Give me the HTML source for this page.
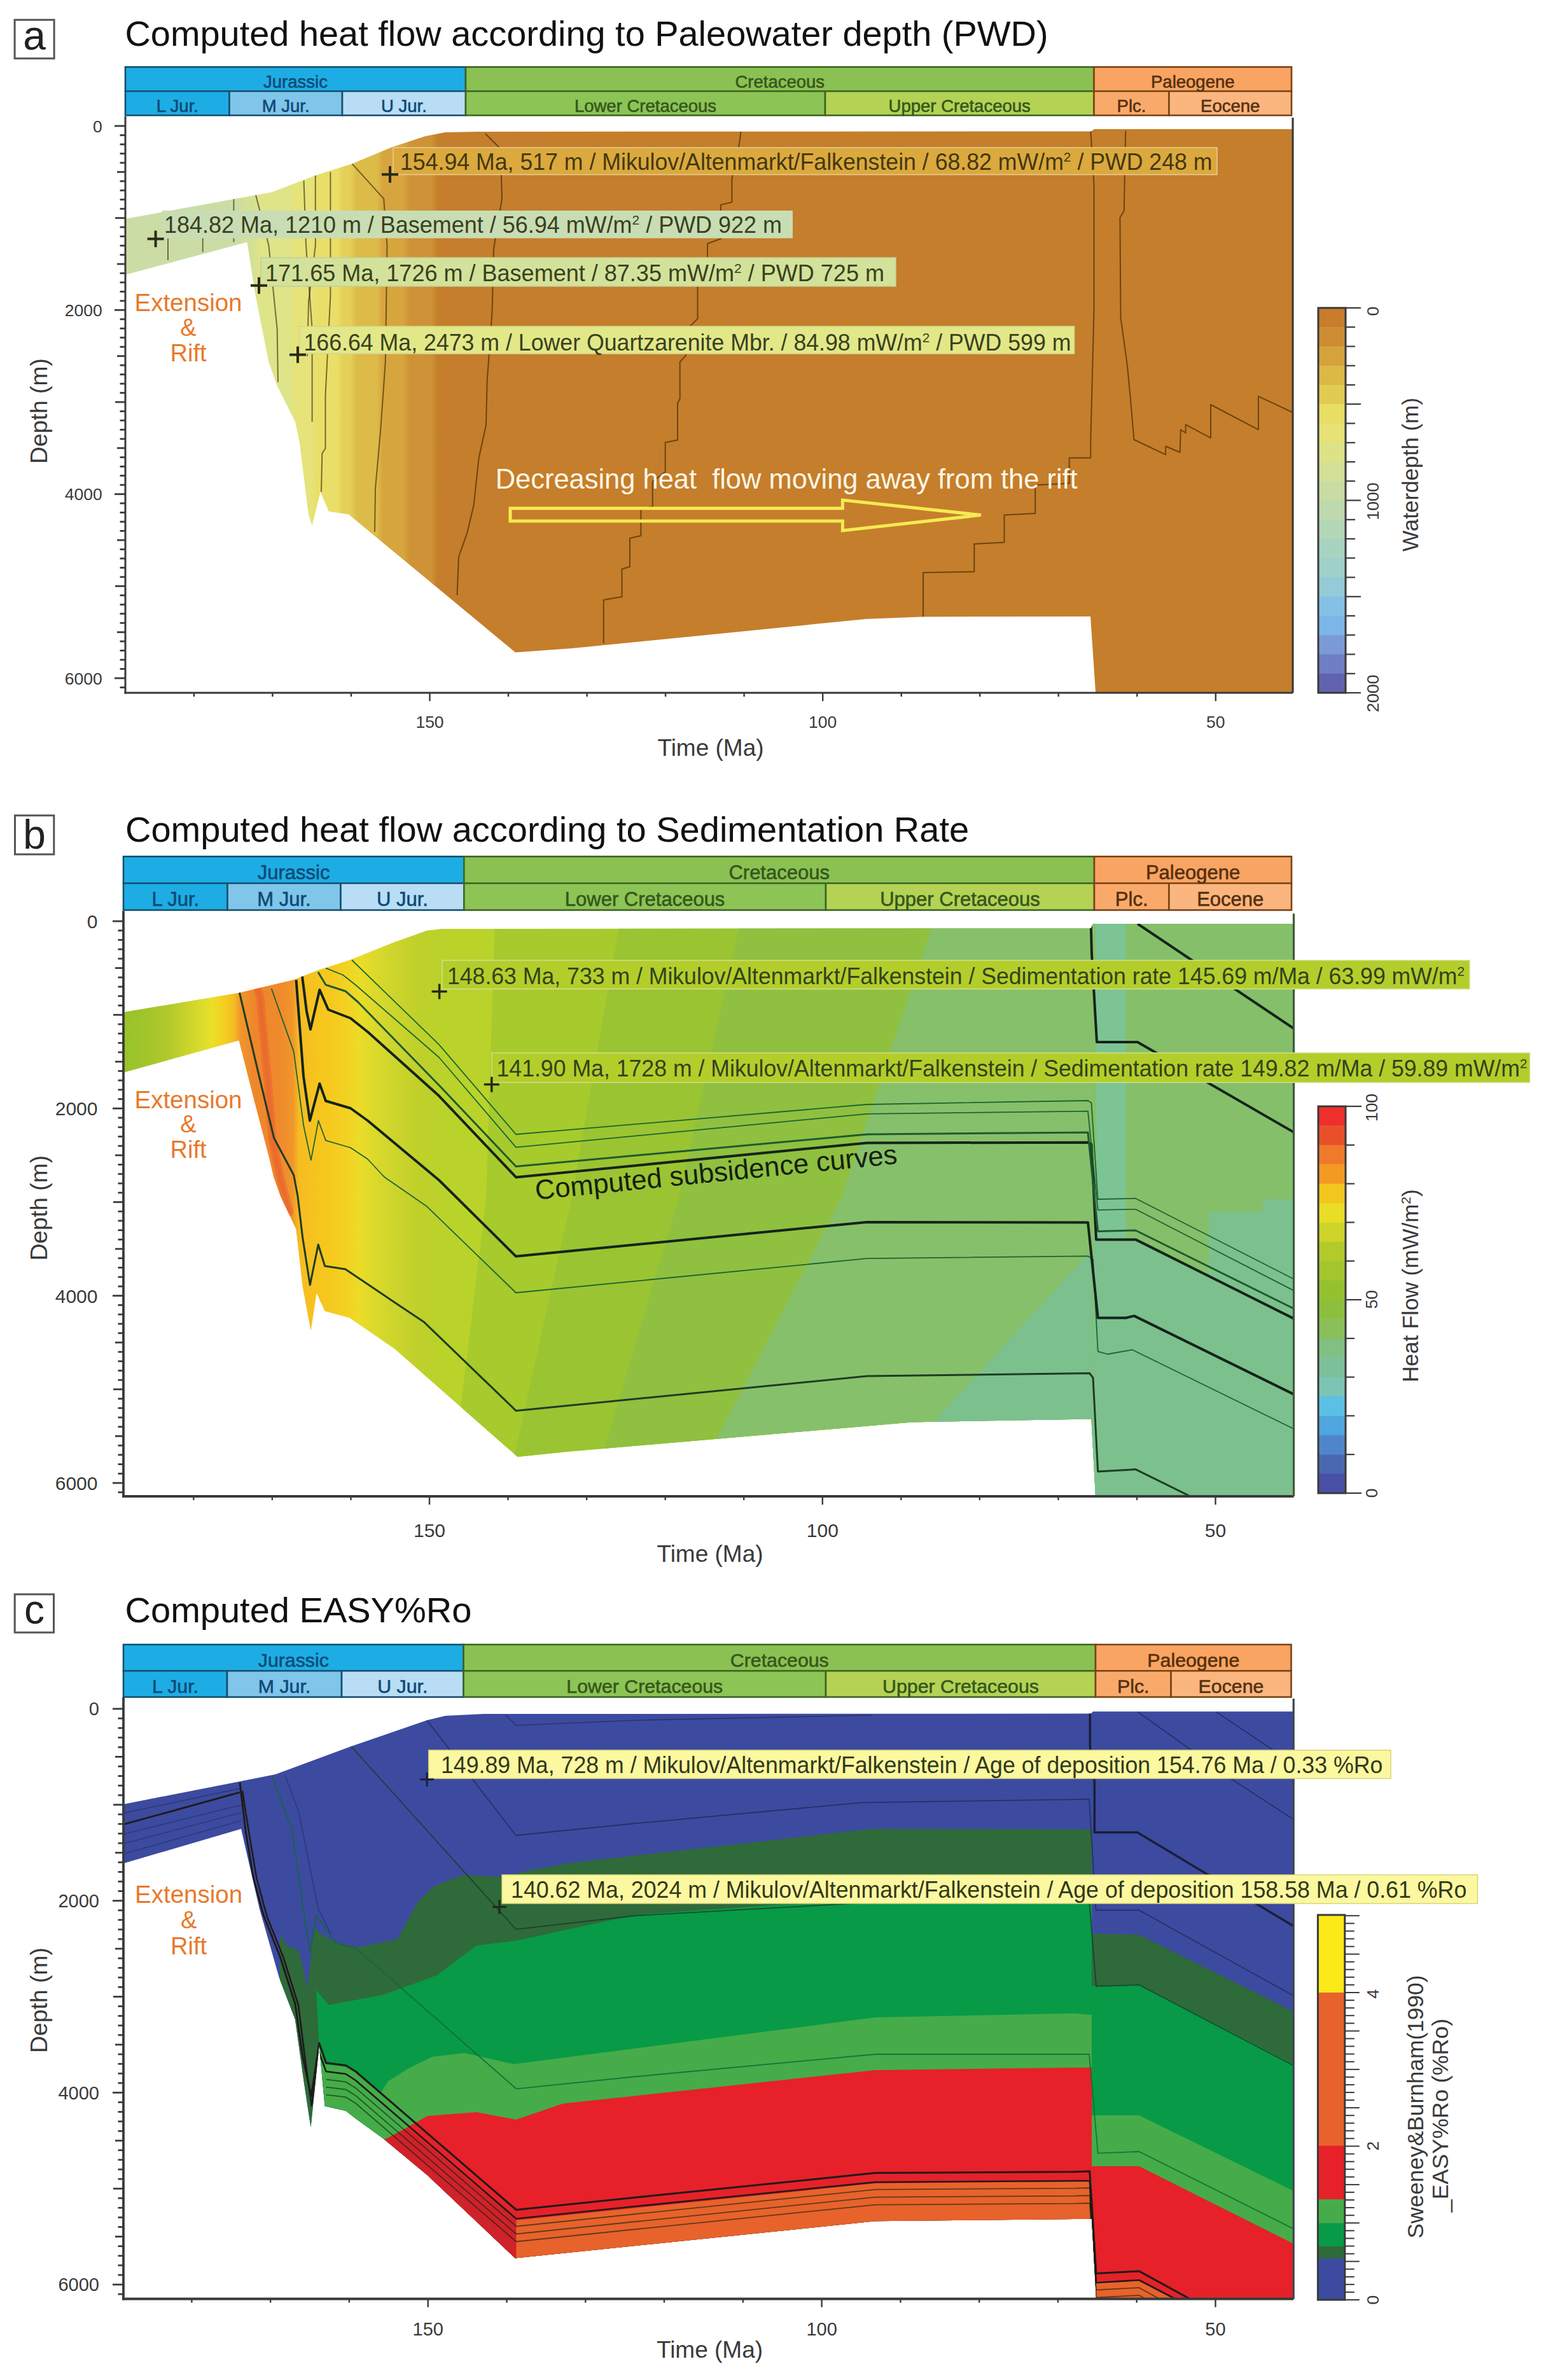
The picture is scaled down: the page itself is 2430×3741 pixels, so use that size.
<!DOCTYPE html>
<html><head><meta charset="utf-8"><title>Computed heat flow</title>
<style>
html,body{margin:0;padding:0;background:#fff;overflow:hidden;width:2430px;height:3741px;}
svg{display:block;}
svg text{font-family:"Liberation Sans",sans-serif;}
</style></head><body>
<svg width="2430" height="3741" viewBox="0 0 2430 3741">
<rect x="0" y="0" width="2430" height="3741" fill="#ffffff"/>
<clipPath id="clipA"><polygon points="197.0,344.0 370.0,312.4 427.7,302.0 495.8,275.7 553.4,257.4 616.3,231.2 668.7,214.0 700.0,208.0 752.5,207.0 1715.0,206.5 1720.0,203.0 2031.0,203.0 2031.0,1088.0 1722.0,1088.0 1714.0,969.0 1450.0,969.4 1361.0,973.0 900.0,1019.0 810.0,1025.4 548.0,808.5 516.8,804.0 503.7,773.0 490.5,826.0 485.0,809.6 470.6,694.0 464.0,663.0 435.5,605.8 422.4,569.0 401.5,464.0 388.4,380.5 197.0,432.0"/></clipPath>
<linearGradient id="gradA" gradientUnits="userSpaceOnUse" x1="190" y1="0" x2="2040" y2="0"><stop offset="0.00000" stop-color="#cbdda5"/><stop offset="0.10000" stop-color="#cbdda5"/><stop offset="0.10541" stop-color="#d3e095"/><stop offset="0.11189" stop-color="#d3e095"/><stop offset="0.11730" stop-color="#dee488"/><stop offset="0.14324" stop-color="#dee488"/><stop offset="0.14865" stop-color="#e6e37a"/><stop offset="0.16162" stop-color="#e6e37a"/><stop offset="0.16703" stop-color="#e9df68"/><stop offset="0.18378" stop-color="#e9df68"/><stop offset="0.18919" stop-color="#e4cf58"/><stop offset="0.19514" stop-color="#e4cf58"/><stop offset="0.20054" stop-color="#ddbb49"/><stop offset="0.21730" stop-color="#ddbb49"/><stop offset="0.22270" stop-color="#d7a53e"/><stop offset="0.24000" stop-color="#d7a53e"/><stop offset="0.24541" stop-color="#cf9236"/><stop offset="0.26378" stop-color="#cf9236"/><stop offset="0.26919" stop-color="#c57e2b"/><stop offset="1.00000" stop-color="#c57e2b"/></linearGradient>
<g clip-path="url(#clipA)">
<rect x="190.0" y="190.0" width="1850.0" height="905.0" fill="url(#gradA)" />
<polyline points="264.0,375.0 264.0,409.0" fill="none" stroke="#2e2000" stroke-width="2" opacity="0.6" stroke-linejoin="round"/>
<polyline points="318.7,367.0 318.7,396.0" fill="none" stroke="#2e2000" stroke-width="2" opacity="0.6" stroke-linejoin="round"/>
<polyline points="367.4,307.0 367.4,380.5" fill="none" stroke="#2e2000" stroke-width="2" opacity="0.6" stroke-linejoin="round"/>
<polyline points="401.5,304.6 422.4,385.8 435.6,516.8 437.0,600.6" fill="none" stroke="#2e2000" stroke-width="2" opacity="0.6" stroke-linejoin="round"/>
<polyline points="477.5,283.6 481.0,385.8 490.6,516.8 490.6,663.0" fill="none" stroke="#2e2000" stroke-width="2" opacity="0.6" stroke-linejoin="round"/>
<polyline points="495.8,275.7 495.8,385.8 485.0,474.8 483.0,560.0" fill="none" stroke="#2e2000" stroke-width="2" opacity="0.6" stroke-linejoin="round"/>
<polyline points="519.4,270.5 519.4,464.4 511.5,621.6 511.5,704.8 506.3,712.6 505.0,773.0" fill="none" stroke="#2e2000" stroke-width="2" opacity="0.6" stroke-linejoin="round"/>
<polyline points="553.4,257.4 603.2,312.4 608.5,385.8 605.8,569.0 598.0,678.6 590.0,767.7 589.0,835.8" fill="none" stroke="#2e2000" stroke-width="2" opacity="0.6" stroke-linejoin="round"/>
<polyline points="763.0,210.3 786.6,233.8 789.0,312.4 776.0,391.0 773.5,490.6 765.6,600.0 764.0,668.0 752.5,720.5 744.7,793.9 734.0,838.4 721.0,875.0 718.5,935.3" fill="none" stroke="#2e2000" stroke-width="2" opacity="0.6" stroke-linejoin="round"/>
<polyline points="1164.6,206.6 1162.0,226.0 1150.4,281.0 1150.4,317.7 1133.0,321.9 1133.0,375.3 1112.0,383.0 1112.0,406.7 1096.5,451.3 1096.5,501.0 1086.0,511.5 1078.0,558.7 1068.7,569.0 1068.7,626.8 1065.0,634.0 1065.0,691.7 1045.7,695.4 1045.7,741.5 1025.7,757.0 1025.7,796.5 1007.4,800.0 1007.4,842.0 990.0,846.0 990.0,890.8 977.5,894.5 977.5,938.0 948.7,943.0 948.7,1011.0" fill="none" stroke="#2e2000" stroke-width="2" opacity="0.6" stroke-linejoin="round"/>
<polyline points="1714.3,205.7 1719.5,289.6 1719.5,489.0 1714.3,691.0 1714.3,719.8 1680.7,719.8 1680.7,759.8 1627.2,762.4 1627.2,807.0 1578.5,809.6 1578.5,852.5 1531.3,855.0 1531.3,898.6 1451.0,900.0 1451.0,969.4" fill="none" stroke="#2e2000" stroke-width="2" opacity="0.6" stroke-linejoin="round"/>
<polyline points="1769.3,205.7 1766.7,331.5 1760.4,342.0 1761.5,499.0 1772.0,575.7 1777.0,628.0 1782.4,691.0 1832.2,714.6 1832.2,701.5 1854.7,711.0 1855.8,675.3 1863.6,680.5 1863.6,667.4 1903.0,688.4 1903.0,636.0 1977.9,675.3 1977.9,622.9 2031.3,648.0" fill="none" stroke="#2e2000" stroke-width="2" opacity="0.6" stroke-linejoin="round"/>
</g>
<rect x="23.1" y="31.2" width="62.0" height="60.7" fill="#fff" stroke="#555" stroke-width="3"/>
<text x="54.1" y="78.2" font-size="64" fill="#222" text-anchor="middle" >a</text>
<text x="196.5" y="71.5" font-size="56" fill="#111" text-anchor="start" textLength="1451" lengthAdjust="spacingAndGlyphs">Computed heat flow according to Paleowater depth (PWD)</text>
<rect x="197.0" y="105.3" width="535.0" height="38.0" fill="#1dade4" stroke="#14506f" stroke-width="2.6"/>
<rect x="732.0" y="105.3" width="987.5" height="38.0" fill="#8bc152" stroke="#3d6423" stroke-width="2.6"/>
<rect x="1719.5" y="105.3" width="310.5" height="38.0" fill="#f9a462" stroke="#7a4315" stroke-width="2.6"/>
<rect x="197.0" y="143.3" width="163.5" height="38.0" fill="#1dade4" stroke="#14506f" stroke-width="2.6"/>
<rect x="360.5" y="143.3" width="177.5" height="38.0" fill="#80c5ea" stroke="#14506f" stroke-width="2.6"/>
<rect x="538.0" y="143.3" width="194.0" height="38.0" fill="#b8ddf5" stroke="#14506f" stroke-width="2.6"/>
<rect x="732.0" y="143.3" width="565.0" height="38.0" fill="#8cc455" stroke="#3d6423" stroke-width="2.6"/>
<rect x="1297.0" y="143.3" width="422.5" height="38.0" fill="#b4d254" stroke="#3d6423" stroke-width="2.6"/>
<rect x="1719.5" y="143.3" width="117.9" height="38.0" fill="#f9aa6b" stroke="#7a4315" stroke-width="2.6"/>
<rect x="1837.4" y="143.3" width="192.6" height="38.0" fill="#fbb57e" stroke="#7a4315" stroke-width="2.6"/>
<text x="464.5" y="137.7" font-size="27.5" fill="#0e4a75" text-anchor="middle" stroke="#0e4a75" stroke-width="0.6">Jurassic</text>
<text x="1225.8" y="137.7" font-size="27.5" fill="#35571c" text-anchor="middle" stroke="#35571c" stroke-width="0.6">Cretaceous</text>
<text x="1874.8" y="137.7" font-size="27.5" fill="#55300f" text-anchor="middle" stroke="#55300f" stroke-width="0.6">Paleogene</text>
<text x="278.8" y="175.7" font-size="27.5" fill="#0e4a75" text-anchor="middle" stroke="#0e4a75" stroke-width="0.6">L Jur.</text>
<text x="449.2" y="175.7" font-size="27.5" fill="#0e4a75" text-anchor="middle" stroke="#0e4a75" stroke-width="0.6">M Jur.</text>
<text x="635.0" y="175.7" font-size="27.5" fill="#0e4a75" text-anchor="middle" stroke="#0e4a75" stroke-width="0.6">U Jur.</text>
<text x="1014.5" y="175.7" font-size="27.5" fill="#35571c" text-anchor="middle" stroke="#35571c" stroke-width="0.6">Lower Cretaceous</text>
<text x="1508.2" y="175.7" font-size="27.5" fill="#35571c" text-anchor="middle" stroke="#35571c" stroke-width="0.6">Upper Cretaceous</text>
<text x="1778.5" y="175.7" font-size="27.5" fill="#55300f" text-anchor="middle" stroke="#55300f" stroke-width="0.6">Plc.</text>
<text x="1933.7" y="175.7" font-size="27.5" fill="#55300f" text-anchor="middle" stroke="#55300f" stroke-width="0.6">Eocene</text>
<line x1="197.0" y1="183.0" x2="197.0" y2="1090.5" stroke="#3a3a3a" stroke-width="3" />
<line x1="195.5" y1="1089.0" x2="2032.0" y2="1089.0" stroke="#3a3a3a" stroke-width="3" />
<line x1="2032.0" y1="185.0" x2="2032.0" y2="1089.0" stroke="#3f3d38" stroke-width="3.2" />
<line x1="180.0" y1="198.0" x2="197.0" y2="198.0" stroke="#3a3a3a" stroke-width="2.8" />
<text x="160.8" y="207.5" font-size="26.5" fill="#3a3a3a" text-anchor="end" >0</text>
<line x1="188.5" y1="212.5" x2="197.0" y2="212.5" stroke="#3a3a3a" stroke-width="2.8" />
<line x1="188.5" y1="226.9" x2="197.0" y2="226.9" stroke="#3a3a3a" stroke-width="2.8" />
<line x1="188.5" y1="241.4" x2="197.0" y2="241.4" stroke="#3a3a3a" stroke-width="2.8" />
<line x1="188.5" y1="255.9" x2="197.0" y2="255.9" stroke="#3a3a3a" stroke-width="2.8" />
<line x1="184.0" y1="270.3" x2="197.0" y2="270.3" stroke="#3a3a3a" stroke-width="2.8" />
<line x1="188.5" y1="284.8" x2="197.0" y2="284.8" stroke="#3a3a3a" stroke-width="2.8" />
<line x1="188.5" y1="299.3" x2="197.0" y2="299.3" stroke="#3a3a3a" stroke-width="2.8" />
<line x1="188.5" y1="313.7" x2="197.0" y2="313.7" stroke="#3a3a3a" stroke-width="2.8" />
<line x1="188.5" y1="328.2" x2="197.0" y2="328.2" stroke="#3a3a3a" stroke-width="2.8" />
<line x1="181.0" y1="342.7" x2="197.0" y2="342.7" stroke="#3a3a3a" stroke-width="2.8" />
<line x1="188.5" y1="357.1" x2="197.0" y2="357.1" stroke="#3a3a3a" stroke-width="2.8" />
<line x1="188.5" y1="371.6" x2="197.0" y2="371.6" stroke="#3a3a3a" stroke-width="2.8" />
<line x1="188.5" y1="386.1" x2="197.0" y2="386.1" stroke="#3a3a3a" stroke-width="2.8" />
<line x1="188.5" y1="400.5" x2="197.0" y2="400.5" stroke="#3a3a3a" stroke-width="2.8" />
<line x1="184.0" y1="415.0" x2="197.0" y2="415.0" stroke="#3a3a3a" stroke-width="2.8" />
<line x1="188.5" y1="429.5" x2="197.0" y2="429.5" stroke="#3a3a3a" stroke-width="2.8" />
<line x1="188.5" y1="443.9" x2="197.0" y2="443.9" stroke="#3a3a3a" stroke-width="2.8" />
<line x1="188.5" y1="458.4" x2="197.0" y2="458.4" stroke="#3a3a3a" stroke-width="2.8" />
<line x1="188.5" y1="472.9" x2="197.0" y2="472.9" stroke="#3a3a3a" stroke-width="2.8" />
<line x1="180.0" y1="487.3" x2="197.0" y2="487.3" stroke="#3a3a3a" stroke-width="2.8" />
<text x="160.8" y="496.9" font-size="26.5" fill="#3a3a3a" text-anchor="end" >2000</text>
<line x1="188.5" y1="501.8" x2="197.0" y2="501.8" stroke="#3a3a3a" stroke-width="2.8" />
<line x1="188.5" y1="516.3" x2="197.0" y2="516.3" stroke="#3a3a3a" stroke-width="2.8" />
<line x1="188.5" y1="530.7" x2="197.0" y2="530.7" stroke="#3a3a3a" stroke-width="2.8" />
<line x1="188.5" y1="545.2" x2="197.0" y2="545.2" stroke="#3a3a3a" stroke-width="2.8" />
<line x1="184.0" y1="559.7" x2="197.0" y2="559.7" stroke="#3a3a3a" stroke-width="2.8" />
<line x1="188.5" y1="574.1" x2="197.0" y2="574.1" stroke="#3a3a3a" stroke-width="2.8" />
<line x1="188.5" y1="588.6" x2="197.0" y2="588.6" stroke="#3a3a3a" stroke-width="2.8" />
<line x1="188.5" y1="603.1" x2="197.0" y2="603.1" stroke="#3a3a3a" stroke-width="2.8" />
<line x1="188.5" y1="617.5" x2="197.0" y2="617.5" stroke="#3a3a3a" stroke-width="2.8" />
<line x1="181.0" y1="632.0" x2="197.0" y2="632.0" stroke="#3a3a3a" stroke-width="2.8" />
<line x1="188.5" y1="646.5" x2="197.0" y2="646.5" stroke="#3a3a3a" stroke-width="2.8" />
<line x1="188.5" y1="660.9" x2="197.0" y2="660.9" stroke="#3a3a3a" stroke-width="2.8" />
<line x1="188.5" y1="675.4" x2="197.0" y2="675.4" stroke="#3a3a3a" stroke-width="2.8" />
<line x1="188.5" y1="689.9" x2="197.0" y2="689.9" stroke="#3a3a3a" stroke-width="2.8" />
<line x1="184.0" y1="704.3" x2="197.0" y2="704.3" stroke="#3a3a3a" stroke-width="2.8" />
<line x1="188.5" y1="718.8" x2="197.0" y2="718.8" stroke="#3a3a3a" stroke-width="2.8" />
<line x1="188.5" y1="733.3" x2="197.0" y2="733.3" stroke="#3a3a3a" stroke-width="2.8" />
<line x1="188.5" y1="747.7" x2="197.0" y2="747.7" stroke="#3a3a3a" stroke-width="2.8" />
<line x1="188.5" y1="762.2" x2="197.0" y2="762.2" stroke="#3a3a3a" stroke-width="2.8" />
<line x1="180.0" y1="776.7" x2="197.0" y2="776.7" stroke="#3a3a3a" stroke-width="2.8" />
<text x="160.8" y="786.2" font-size="26.5" fill="#3a3a3a" text-anchor="end" >4000</text>
<line x1="188.5" y1="791.1" x2="197.0" y2="791.1" stroke="#3a3a3a" stroke-width="2.8" />
<line x1="188.5" y1="805.6" x2="197.0" y2="805.6" stroke="#3a3a3a" stroke-width="2.8" />
<line x1="188.5" y1="820.1" x2="197.0" y2="820.1" stroke="#3a3a3a" stroke-width="2.8" />
<line x1="188.5" y1="834.5" x2="197.0" y2="834.5" stroke="#3a3a3a" stroke-width="2.8" />
<line x1="184.0" y1="849.0" x2="197.0" y2="849.0" stroke="#3a3a3a" stroke-width="2.8" />
<line x1="188.5" y1="863.5" x2="197.0" y2="863.5" stroke="#3a3a3a" stroke-width="2.8" />
<line x1="188.5" y1="877.9" x2="197.0" y2="877.9" stroke="#3a3a3a" stroke-width="2.8" />
<line x1="188.5" y1="892.4" x2="197.0" y2="892.4" stroke="#3a3a3a" stroke-width="2.8" />
<line x1="188.5" y1="906.9" x2="197.0" y2="906.9" stroke="#3a3a3a" stroke-width="2.8" />
<line x1="181.0" y1="921.3" x2="197.0" y2="921.3" stroke="#3a3a3a" stroke-width="2.8" />
<line x1="188.5" y1="935.8" x2="197.0" y2="935.8" stroke="#3a3a3a" stroke-width="2.8" />
<line x1="188.5" y1="950.3" x2="197.0" y2="950.3" stroke="#3a3a3a" stroke-width="2.8" />
<line x1="188.5" y1="964.7" x2="197.0" y2="964.7" stroke="#3a3a3a" stroke-width="2.8" />
<line x1="188.5" y1="979.2" x2="197.0" y2="979.2" stroke="#3a3a3a" stroke-width="2.8" />
<line x1="184.0" y1="993.7" x2="197.0" y2="993.7" stroke="#3a3a3a" stroke-width="2.8" />
<line x1="188.5" y1="1008.1" x2="197.0" y2="1008.1" stroke="#3a3a3a" stroke-width="2.8" />
<line x1="188.5" y1="1022.6" x2="197.0" y2="1022.6" stroke="#3a3a3a" stroke-width="2.8" />
<line x1="188.5" y1="1037.1" x2="197.0" y2="1037.1" stroke="#3a3a3a" stroke-width="2.8" />
<line x1="188.5" y1="1051.5" x2="197.0" y2="1051.5" stroke="#3a3a3a" stroke-width="2.8" />
<line x1="180.0" y1="1066.0" x2="197.0" y2="1066.0" stroke="#3a3a3a" stroke-width="2.8" />
<text x="160.8" y="1075.5" font-size="26.5" fill="#3a3a3a" text-anchor="end" >6000</text>
<line x1="188.5" y1="1080.5" x2="197.0" y2="1080.5" stroke="#3a3a3a" stroke-width="2.8" />
<line x1="304.9" y1="1089.0" x2="304.9" y2="1095.0" stroke="#3a3a3a" stroke-width="2.4" />
<line x1="428.4" y1="1089.0" x2="428.4" y2="1095.0" stroke="#3a3a3a" stroke-width="2.4" />
<line x1="552.0" y1="1089.0" x2="552.0" y2="1095.0" stroke="#3a3a3a" stroke-width="2.4" />
<line x1="675.5" y1="1089.0" x2="675.5" y2="1102.0" stroke="#3a3a3a" stroke-width="2.4" />
<text x="675.5" y="1144.0" font-size="26.5" fill="#3a3a3a" text-anchor="middle" >150</text>
<line x1="799.0" y1="1089.0" x2="799.0" y2="1095.0" stroke="#3a3a3a" stroke-width="2.4" />
<line x1="922.6" y1="1089.0" x2="922.6" y2="1095.0" stroke="#3a3a3a" stroke-width="2.4" />
<line x1="1046.1" y1="1089.0" x2="1046.1" y2="1095.0" stroke="#3a3a3a" stroke-width="2.4" />
<line x1="1169.6" y1="1089.0" x2="1169.6" y2="1095.0" stroke="#3a3a3a" stroke-width="2.4" />
<line x1="1293.2" y1="1089.0" x2="1293.2" y2="1102.0" stroke="#3a3a3a" stroke-width="2.4" />
<text x="1293.2" y="1144.0" font-size="26.5" fill="#3a3a3a" text-anchor="middle" >100</text>
<line x1="1416.7" y1="1089.0" x2="1416.7" y2="1095.0" stroke="#3a3a3a" stroke-width="2.4" />
<line x1="1540.2" y1="1089.0" x2="1540.2" y2="1095.0" stroke="#3a3a3a" stroke-width="2.4" />
<line x1="1663.7" y1="1089.0" x2="1663.7" y2="1095.0" stroke="#3a3a3a" stroke-width="2.4" />
<line x1="1787.3" y1="1089.0" x2="1787.3" y2="1095.0" stroke="#3a3a3a" stroke-width="2.4" />
<line x1="1910.8" y1="1089.0" x2="1910.8" y2="1102.0" stroke="#3a3a3a" stroke-width="2.4" />
<text x="1910.8" y="1144.0" font-size="26.5" fill="#3a3a3a" text-anchor="middle" >50</text>
<text x="1117.0" y="1187.5" font-size="37" fill="#3a3a3a" text-anchor="middle" >Time (Ma)</text>
<text transform="translate(74.0,646.0) rotate(-90)" font-size="37.3" fill="#3a3a3a" text-anchor="middle" >Depth (m)</text>
<text x="296.0" y="489.0" font-size="39" fill="#e8792b" text-anchor="middle" textLength="169" lengthAdjust="spacingAndGlyphs">Extension</text>
<text x="296.0" y="528.0" font-size="38" fill="#e8792b" text-anchor="middle" >&amp;</text>
<text x="296.0" y="568.0" font-size="38" fill="#e8792b" text-anchor="middle" >Rift</text>
<rect x="618.0" y="232.0" width="1295.0" height="42.5" fill="#dba93e"  stroke="#e6cf95" stroke-width="1.5"/>
<text x="629.0" y="266.5" font-size="36" fill="#44380f" text-anchor="start" textLength="1276.5" lengthAdjust="spacingAndGlyphs">154.94 Ma, 517 m / Mikulov/Altenmarkt/Falkenstein / 68.82 mW/m<tspan font-size="21" dy="-13">2</tspan><tspan dy="13"> </tspan>/ PWD 248 m</text>
<rect x="255.0" y="331.0" width="991.0" height="43.5" fill="#c8ddb4" />
<text x="258.0" y="366.3" font-size="36" fill="#3a4020" text-anchor="start" textLength="971.0" lengthAdjust="spacingAndGlyphs">184.82 Ma, 1210 m / Basement / 56.94 mW/m<tspan font-size="21" dy="-13">2</tspan><tspan dy="13"> </tspan>/ PWD 922 m</text>
<rect x="410.0" y="405.0" width="998.0" height="45.0" fill="#d3e29a"  stroke="#c2cf9a" stroke-width="1.5"/>
<text x="417.0" y="442.3" font-size="36" fill="#3a4020" text-anchor="start" textLength="973.0" lengthAdjust="spacingAndGlyphs">171.65 Ma, 1726 m / Basement / 87.35 mW/m<tspan font-size="21" dy="-13">2</tspan><tspan dy="13"> </tspan>/ PWD 725 m</text>
<rect x="470.6" y="513.0" width="1217.9" height="43.0" fill="#e2e888"  stroke="#d5d590" stroke-width="1.5"/>
<text x="477.5" y="550.8" font-size="36" fill="#3a4020" text-anchor="start" textLength="1206.0" lengthAdjust="spacingAndGlyphs">166.64 Ma, 2473 m / Lower Quartzarenite Mbr. / 84.98 mW/m<tspan font-size="21" dy="-13">2</tspan><tspan dy="13"> </tspan>/ PWD 599 m</text>
<line x1="600.0" y1="274.2" x2="626.0" y2="274.2" stroke="#2a2a14" stroke-width="4" /><line x1="613.0" y1="261.2" x2="613.0" y2="287.2" stroke="#2a2a14" stroke-width="4" />
<line x1="231.6" y1="375.5" x2="257.6" y2="375.5" stroke="#2a2a14" stroke-width="4" /><line x1="244.6" y1="362.5" x2="244.6" y2="388.5" stroke="#2a2a14" stroke-width="4" />
<line x1="394.0" y1="448.8" x2="420.0" y2="448.8" stroke="#2a2a14" stroke-width="4" /><line x1="407.0" y1="435.8" x2="407.0" y2="461.8" stroke="#2a2a14" stroke-width="4" />
<line x1="455.0" y1="557.6" x2="481.0" y2="557.6" stroke="#2a2a14" stroke-width="4" /><line x1="468.0" y1="544.6" x2="468.0" y2="570.6" stroke="#2a2a14" stroke-width="4" />
<text x="778.7" y="767.7" font-size="43.5" fill="#fdf6e6" text-anchor="start" style="white-space:pre" textLength="915" lengthAdjust="spacingAndGlyphs">Decreasing heat  flow moving away from the rift</text>
<polygon points="802.0,799.0 1324.4,799.0 1324.4,786.0 1541.8,809.6 1324.4,834.0 1324.4,819.0 802.0,819.0" fill="none" stroke="#f4ea52" stroke-width="5" stroke-linejoin="miter"/>
<rect x="2072.0" y="484.0" width="43.0" height="30.8" fill="#c97c2c" />
<rect x="2072.0" y="514.2" width="43.0" height="30.8" fill="#cf8d33" />
<rect x="2072.0" y="544.5" width="43.0" height="30.8" fill="#d6a23c" />
<rect x="2072.0" y="574.8" width="43.0" height="30.8" fill="#dcb845" />
<rect x="2072.0" y="605.0" width="43.0" height="30.8" fill="#e2cb52" />
<rect x="2072.0" y="635.2" width="43.0" height="30.8" fill="#e8de64" />
<rect x="2072.0" y="665.5" width="43.0" height="30.8" fill="#e6e276" />
<rect x="2072.0" y="695.8" width="43.0" height="30.8" fill="#dde286" />
<rect x="2072.0" y="726.0" width="43.0" height="30.8" fill="#d3e095" />
<rect x="2072.0" y="756.2" width="43.0" height="30.8" fill="#c9dca3" />
<rect x="2072.0" y="786.5" width="43.0" height="30.8" fill="#bfd9ae" />
<rect x="2072.0" y="816.8" width="43.0" height="30.8" fill="#b4d6b8" />
<rect x="2072.0" y="847.0" width="43.0" height="30.8" fill="#a9d3c1" />
<rect x="2072.0" y="877.2" width="43.0" height="30.8" fill="#9fd0ca" />
<rect x="2072.0" y="907.5" width="43.0" height="30.8" fill="#93cbd6" />
<rect x="2072.0" y="937.8" width="43.0" height="30.8" fill="#85c1e6" />
<rect x="2072.0" y="968.0" width="43.0" height="30.8" fill="#7cb5e8" />
<rect x="2072.0" y="998.2" width="43.0" height="30.8" fill="#7b9bd6" />
<rect x="2072.0" y="1028.5" width="43.0" height="30.8" fill="#6f7fc4" />
<rect x="2072.0" y="1058.8" width="43.0" height="30.8" fill="#6163b0" />
<rect x="2072.0" y="484.0" width="43.0" height="605.0" fill="none" stroke="#3a3a3a" stroke-width="3"/>
<line x1="2115.0" y1="484.0" x2="2139.0" y2="484.0" stroke="#3a3a3a" stroke-width="2.2" />
<line x1="2115.0" y1="514.2" x2="2130.0" y2="514.2" stroke="#3a3a3a" stroke-width="2.2" />
<line x1="2115.0" y1="544.5" x2="2130.0" y2="544.5" stroke="#3a3a3a" stroke-width="2.2" />
<line x1="2115.0" y1="574.8" x2="2130.0" y2="574.8" stroke="#3a3a3a" stroke-width="2.2" />
<line x1="2115.0" y1="605.0" x2="2130.0" y2="605.0" stroke="#3a3a3a" stroke-width="2.2" />
<line x1="2115.0" y1="635.2" x2="2139.0" y2="635.2" stroke="#3a3a3a" stroke-width="2.2" />
<line x1="2115.0" y1="665.5" x2="2130.0" y2="665.5" stroke="#3a3a3a" stroke-width="2.2" />
<line x1="2115.0" y1="695.8" x2="2130.0" y2="695.8" stroke="#3a3a3a" stroke-width="2.2" />
<line x1="2115.0" y1="726.0" x2="2130.0" y2="726.0" stroke="#3a3a3a" stroke-width="2.2" />
<line x1="2115.0" y1="756.2" x2="2130.0" y2="756.2" stroke="#3a3a3a" stroke-width="2.2" />
<line x1="2115.0" y1="786.5" x2="2139.0" y2="786.5" stroke="#3a3a3a" stroke-width="2.2" />
<line x1="2115.0" y1="816.8" x2="2130.0" y2="816.8" stroke="#3a3a3a" stroke-width="2.2" />
<line x1="2115.0" y1="847.0" x2="2130.0" y2="847.0" stroke="#3a3a3a" stroke-width="2.2" />
<line x1="2115.0" y1="877.2" x2="2130.0" y2="877.2" stroke="#3a3a3a" stroke-width="2.2" />
<line x1="2115.0" y1="907.5" x2="2130.0" y2="907.5" stroke="#3a3a3a" stroke-width="2.2" />
<line x1="2115.0" y1="937.8" x2="2139.0" y2="937.8" stroke="#3a3a3a" stroke-width="2.2" />
<line x1="2115.0" y1="968.0" x2="2130.0" y2="968.0" stroke="#3a3a3a" stroke-width="2.2" />
<line x1="2115.0" y1="998.2" x2="2130.0" y2="998.2" stroke="#3a3a3a" stroke-width="2.2" />
<line x1="2115.0" y1="1028.5" x2="2130.0" y2="1028.5" stroke="#3a3a3a" stroke-width="2.2" />
<line x1="2115.0" y1="1058.8" x2="2130.0" y2="1058.8" stroke="#3a3a3a" stroke-width="2.2" />
<line x1="2115.0" y1="1089.0" x2="2139.0" y2="1089.0" stroke="#3a3a3a" stroke-width="2.2" />
<text transform="translate(2167.0,489.0) rotate(-90)" font-size="26.5" fill="#3a3a3a" text-anchor="middle" >0</text>
<text transform="translate(2167.0,788.0) rotate(-90)" font-size="26.5" fill="#3a3a3a" text-anchor="middle" >1000</text>
<text transform="translate(2167.0,1090.0) rotate(-90)" font-size="26.5" fill="#3a3a3a" text-anchor="middle" >2000</text>
<text transform="translate(2229.0,746.0) rotate(-90)" font-size="35" fill="#3a3a3a" text-anchor="middle" >Waterdepth (m)</text>
<clipPath id="clipB"><polygon points="194.0,1591.0 376.0,1560.5 461.7,1540.0 500.5,1524.8 551.0,1508.5 617.0,1482.0 671.0,1462.7 694.5,1460.0 1715.0,1459.0 1718.0,1452.0 2034.0,1452.0 2034.0,2352.0 1722.0,2352.0 1715.4,2230.4 1433.0,2235.5 890.0,2282.0 813.5,2290.0 620.0,2120.0 549.4,2071.5 510.6,2061.0 497.6,2032.6 488.6,2092.0 475.6,2022.3 465.3,1931.7 440.7,1880.0 430.0,1850.0 423.0,1819.7 395.7,1715.0 375.5,1635.4 194.0,1686.0"/></clipPath>
<linearGradient id="gradB" gradientUnits="userSpaceOnUse" x1="194" y1="0" x2="800" y2="0"><stop offset="0.0000" stop-color="#98c22a"/><stop offset="0.0611" stop-color="#a2c52b"/><stop offset="0.1188" stop-color="#b2ca2b"/><stop offset="0.1535" stop-color="#c4d12c"/><stop offset="0.2046" stop-color="#dcdc2c"/><stop offset="0.2277" stop-color="#e8e02a"/><stop offset="0.2574" stop-color="#f4d022"/><stop offset="0.2871" stop-color="#f4bc24"/><stop offset="0.3036" stop-color="#f0962a"/><stop offset="0.3399" stop-color="#ee862c"/><stop offset="0.4059" stop-color="#ef8a2c"/><stop offset="0.4389" stop-color="#f0962a"/><stop offset="0.4554" stop-color="#f6bc22"/><stop offset="0.5000" stop-color="#f6c41e"/><stop offset="0.5314" stop-color="#f6c81e"/><stop offset="0.5792" stop-color="#f2d222"/><stop offset="0.6122" stop-color="#ecdc28"/><stop offset="0.6535" stop-color="#dcd92b"/><stop offset="0.6898" stop-color="#d0d62c"/><stop offset="0.7690" stop-color="#bfd02a"/><stop offset="0.8350" stop-color="#b9d32b"/><stop offset="1.0000" stop-color="#b9d32b"/></linearGradient>
<g clip-path="url(#clipB)">
<rect x="190.0" y="1440.0" width="610.0" height="920.0" fill="url(#gradB)" />
<polyline points="404.0,1552.0 409.0,1568.0 421.0,1700.0 428.0,1791.0 440.0,1850.0 455.0,1905.0" fill="none" stroke="#e95e2e" stroke-width="13" opacity="0.5" stroke-linecap="round" stroke-linejoin="round"/>
<polyline points="404.0,1552.0 409.0,1568.0 421.0,1700.0 428.0,1791.0 440.0,1850.0 455.0,1905.0" fill="none" stroke="#e95e2e" stroke-width="6" opacity="0.4" stroke-linecap="round" stroke-linejoin="round"/>
<polygon points="778.1,1440.0 776.2,1500.0 773.0,1600.0 769.9,1700.0 766.7,1800.0 764.0,1884.0 754.8,1960.0 745.1,2040.0 735.4,2120.0 725.7,2200.0 720.0,2247.0 713.6,2300.0 706.3,2360.0 2040.0,2360.0 2040.0,1440.0" fill="#a7ca2d" />
<polygon points="976.0,1440.0 965.5,1500.0 948.1,1600.0 930.6,1700.0 913.2,1800.0 898.5,1884.0 881.6,1960.0 863.8,2040.0 846.0,2120.0 828.2,2200.0 817.8,2247.0 806.0,2300.0 792.7,2360.0 2040.0,2360.0 2040.0,1440.0" fill="#9ac432" />
<polygon points="1165.4,1440.0 1152.1,1500.0 1129.9,1600.0 1107.6,1700.0 1085.4,1800.0 1066.7,1884.0 1044.2,1960.0 1020.4,2040.0 996.7,2120.0 972.9,2200.0 959.0,2247.0 943.3,2300.0 925.5,2360.0 2040.0,2360.0 2040.0,1440.0" fill="#8fc040" />
<polygon points="1470.3,1440.0 1450.2,1500.0 1416.8,1600.0 1383.4,1700.0 1350.1,1800.0 1322.0,1884.0 1282.6,1960.0 1241.2,2040.0 1199.8,2120.0 1158.3,2200.0 1134.0,2247.0 1106.6,2300.0 1075.5,2360.0 2040.0,2360.0 2040.0,1440.0" fill="#87c06a" />
<polygon points="1894.7,1440.0 1880.6,1500.0 1857.0,1600.0 1833.4,1700.0 1809.8,1800.0 1790.0,1884.0 1720.3,1960.0 1646.9,2040.0 1573.5,2120.0 1500.1,2200.0 1457.0,2247.0 1408.4,2300.0 1353.3,2360.0 2040.0,2360.0 2040.0,1440.0" fill="#7cc08e" />
<rect x="1716.0" y="1440.0" width="324.0" height="920.0" fill="#86bf6a" />
<polygon points="1722.0,1440.0 1770.0,1440.0 1770.0,1948.0 1724.0,1948.0" fill="#7cc494" />
<polygon points="1719.0,1930.0 1723.0,1948.4 1785.0,1948.4 1900.0,2005.0 1900.0,1905.0 1985.0,1905.0 1985.0,1885.0 2040.0,1885.0 2040.0,2360.0 1716.0,2360.0" fill="#7cc08e" />
<polyline points="376.3,1559.7 407.3,1691.7 430.6,1788.7 461.7,1847.0 467.9,1880.0 475.6,1944.7 487.3,2019.7 500.2,1956.3 510.6,1990.0 542.9,1995.0 620.0,2046.9 666.0,2077.7 811.0,2217.4 1362.7,2163.0 1712.5,2158.5 1718.0,2165.7 1725.7,2313.0 1785.0,2309.6 1873.0,2353.0" fill="none" stroke="#1d3d22" stroke-width="3" stroke-linejoin="round"/>
<polyline points="426.7,1553.9 461.7,1652.9 477.2,1769.3 488.8,1823.6 500.5,1761.5 512.0,1792.6 551.0,1804.0 578.0,1822.0 604.0,1850.0 671.2,1896.6 811.0,2032.0 1362.7,1978.2 1710.0,1974.3 1718.0,1979.4 1725.7,2124.3 1741.0,2128.5 1780.0,2121.7 2033.6,2246.0" fill="none" stroke="#1c6430" stroke-width="1.8" stroke-linejoin="round"/>
<polyline points="465.5,1540.3 477.0,1691.7 487.0,1761.5 502.4,1703.3 512.0,1730.5 551.0,1742.0 578.0,1761.5 690.0,1855.0 811.0,1974.8 1362.7,1921.0 1710.0,1921.5 1725.7,2071.5 1770.0,2071.5 1782.7,2068.4 2033.6,2191.6" fill="none" stroke="#14241a" stroke-width="4" stroke-linejoin="round"/>
<polyline points="475.0,1534.5 482.0,1590.0 488.0,1618.0 502.4,1555.8 516.0,1587.0 551.0,1600.5 578.0,1622.0 690.0,1722.6 811.0,1850.4 1362.7,1796.5 1710.0,1795.7 1715.4,1798.3 1723.0,1948.4 1785.0,1948.4 2033.6,2072.6" fill="none" stroke="#14241a" stroke-width="4" stroke-linejoin="round"/>
<polyline points="500.0,1528.0 512.0,1548.0 543.0,1558.0 562.6,1575.0 690.0,1705.7 811.0,1833.5 1362.7,1783.0 1710.0,1780.0 1725.7,1935.4 1785.0,1934.0 2033.6,2057.0" fill="none" stroke="#1e5a30" stroke-width="3" stroke-linejoin="round"/>
<polyline points="512.0,1521.7 539.0,1532.5 558.7,1548.0 690.0,1662.0 811.0,1803.3 1362.7,1750.8 1710.0,1746.6 1725.7,1901.8 1785.0,1900.8 2033.6,2028.6" fill="none" stroke="#1c6430" stroke-width="1.8" stroke-linejoin="round"/>
<polyline points="553.0,1509.0 690.0,1641.8 811.0,1783.0 1362.7,1736.0 1710.0,1730.0 1715.4,1733.6 1725.7,1885.0 1785.0,1883.7 2033.6,2010.5" fill="none" stroke="#1c6430" stroke-width="1.8" stroke-linejoin="round"/>
<polyline points="1788.0,1452.0 2033.4,1616.6" fill="none" stroke="#14241a" stroke-width="4" stroke-linejoin="round"/>
<polyline points="1714.7,1452.0 1716.0,1500.0 1724.0,1638.0 1788.0,1638.0 2033.4,1779.6" fill="none" stroke="#14241a" stroke-width="4" stroke-linejoin="round"/>
</g>
<rect x="23.5" y="1281.8" width="61.3" height="61.1" fill="#fff" stroke="#555" stroke-width="3"/>
<text x="54.1" y="1333.7" font-size="64" fill="#222" text-anchor="middle" >b</text>
<text x="197.0" y="1322.8" font-size="56" fill="#111" text-anchor="start" >Computed heat flow according to Sedimentation Rate</text>
<rect x="194.0" y="1346.3" width="535.3" height="42.0" fill="#1dade4" stroke="#14506f" stroke-width="2.6"/>
<rect x="729.3" y="1346.3" width="990.7" height="42.0" fill="#8bc152" stroke="#3d6423" stroke-width="2.6"/>
<rect x="1720.0" y="1346.3" width="310.0" height="42.0" fill="#f9a462" stroke="#7a4315" stroke-width="2.6"/>
<rect x="194.0" y="1388.3" width="163.5" height="42.2" fill="#1dade4" stroke="#14506f" stroke-width="2.6"/>
<rect x="357.5" y="1388.3" width="178.0" height="42.2" fill="#80c5ea" stroke="#14506f" stroke-width="2.6"/>
<rect x="535.5" y="1388.3" width="193.8" height="42.2" fill="#b8ddf5" stroke="#14506f" stroke-width="2.6"/>
<rect x="729.3" y="1388.3" width="568.7" height="42.2" fill="#8cc455" stroke="#3d6423" stroke-width="2.6"/>
<rect x="1298.0" y="1388.3" width="422.0" height="42.2" fill="#b4d254" stroke="#3d6423" stroke-width="2.6"/>
<rect x="1720.0" y="1388.3" width="117.4" height="42.2" fill="#f9aa6b" stroke="#7a4315" stroke-width="2.6"/>
<rect x="1837.4" y="1388.3" width="192.6" height="42.2" fill="#fbb57e" stroke="#7a4315" stroke-width="2.6"/>
<text x="461.6" y="1382.0" font-size="31" fill="#0e4a75" text-anchor="middle" stroke="#0e4a75" stroke-width="0.6">Jurassic</text>
<text x="1224.7" y="1382.0" font-size="31" fill="#35571c" text-anchor="middle" stroke="#35571c" stroke-width="0.6">Cretaceous</text>
<text x="1875.0" y="1382.0" font-size="31" fill="#55300f" text-anchor="middle" stroke="#55300f" stroke-width="0.6">Paleogene</text>
<text x="275.8" y="1424.1" font-size="31" fill="#0e4a75" text-anchor="middle" stroke="#0e4a75" stroke-width="0.6">L Jur.</text>
<text x="446.5" y="1424.1" font-size="31" fill="#0e4a75" text-anchor="middle" stroke="#0e4a75" stroke-width="0.6">M Jur.</text>
<text x="632.4" y="1424.1" font-size="31" fill="#0e4a75" text-anchor="middle" stroke="#0e4a75" stroke-width="0.6">U Jur.</text>
<text x="1013.6" y="1424.1" font-size="31" fill="#35571c" text-anchor="middle" stroke="#35571c" stroke-width="0.6">Lower Cretaceous</text>
<text x="1509.0" y="1424.1" font-size="31" fill="#35571c" text-anchor="middle" stroke="#35571c" stroke-width="0.6">Upper Cretaceous</text>
<text x="1778.7" y="1424.1" font-size="31" fill="#55300f" text-anchor="middle" stroke="#55300f" stroke-width="0.6">Plc.</text>
<text x="1933.7" y="1424.1" font-size="31" fill="#55300f" text-anchor="middle" stroke="#55300f" stroke-width="0.6">Eocene</text>
<line x1="194.0" y1="1432.0" x2="194.0" y2="2353.9" stroke="#3a3a3a" stroke-width="3.8" />
<line x1="192.1" y1="2352.0" x2="2033.5" y2="2352.0" stroke="#3a3a3a" stroke-width="3.8" />
<line x1="2033.5" y1="1436.0" x2="2033.5" y2="2352.0" stroke="#3f5a3a" stroke-width="3.2" />
<line x1="177.0" y1="1448.0" x2="194.0" y2="1448.0" stroke="#3a3a3a" stroke-width="2.8" />
<text x="153.5" y="1458.8" font-size="30" fill="#3a3a3a" text-anchor="end" >0</text>
<line x1="185.5" y1="1462.7" x2="194.0" y2="1462.7" stroke="#3a3a3a" stroke-width="2.8" />
<line x1="185.5" y1="1477.4" x2="194.0" y2="1477.4" stroke="#3a3a3a" stroke-width="2.8" />
<line x1="185.5" y1="1492.2" x2="194.0" y2="1492.2" stroke="#3a3a3a" stroke-width="2.8" />
<line x1="185.5" y1="1506.9" x2="194.0" y2="1506.9" stroke="#3a3a3a" stroke-width="2.8" />
<line x1="181.0" y1="1521.6" x2="194.0" y2="1521.6" stroke="#3a3a3a" stroke-width="2.8" />
<line x1="185.5" y1="1536.3" x2="194.0" y2="1536.3" stroke="#3a3a3a" stroke-width="2.8" />
<line x1="185.5" y1="1551.0" x2="194.0" y2="1551.0" stroke="#3a3a3a" stroke-width="2.8" />
<line x1="185.5" y1="1565.7" x2="194.0" y2="1565.7" stroke="#3a3a3a" stroke-width="2.8" />
<line x1="185.5" y1="1580.5" x2="194.0" y2="1580.5" stroke="#3a3a3a" stroke-width="2.8" />
<line x1="178.0" y1="1595.2" x2="194.0" y2="1595.2" stroke="#3a3a3a" stroke-width="2.8" />
<line x1="185.5" y1="1609.9" x2="194.0" y2="1609.9" stroke="#3a3a3a" stroke-width="2.8" />
<line x1="185.5" y1="1624.6" x2="194.0" y2="1624.6" stroke="#3a3a3a" stroke-width="2.8" />
<line x1="185.5" y1="1639.3" x2="194.0" y2="1639.3" stroke="#3a3a3a" stroke-width="2.8" />
<line x1="185.5" y1="1654.0" x2="194.0" y2="1654.0" stroke="#3a3a3a" stroke-width="2.8" />
<line x1="181.0" y1="1668.8" x2="194.0" y2="1668.8" stroke="#3a3a3a" stroke-width="2.8" />
<line x1="185.5" y1="1683.5" x2="194.0" y2="1683.5" stroke="#3a3a3a" stroke-width="2.8" />
<line x1="185.5" y1="1698.2" x2="194.0" y2="1698.2" stroke="#3a3a3a" stroke-width="2.8" />
<line x1="185.5" y1="1712.9" x2="194.0" y2="1712.9" stroke="#3a3a3a" stroke-width="2.8" />
<line x1="185.5" y1="1727.6" x2="194.0" y2="1727.6" stroke="#3a3a3a" stroke-width="2.8" />
<line x1="177.0" y1="1742.3" x2="194.0" y2="1742.3" stroke="#3a3a3a" stroke-width="2.8" />
<text x="153.5" y="1753.1" font-size="30" fill="#3a3a3a" text-anchor="end" >2000</text>
<line x1="185.5" y1="1757.0" x2="194.0" y2="1757.0" stroke="#3a3a3a" stroke-width="2.8" />
<line x1="185.5" y1="1771.8" x2="194.0" y2="1771.8" stroke="#3a3a3a" stroke-width="2.8" />
<line x1="185.5" y1="1786.5" x2="194.0" y2="1786.5" stroke="#3a3a3a" stroke-width="2.8" />
<line x1="185.5" y1="1801.2" x2="194.0" y2="1801.2" stroke="#3a3a3a" stroke-width="2.8" />
<line x1="181.0" y1="1815.9" x2="194.0" y2="1815.9" stroke="#3a3a3a" stroke-width="2.8" />
<line x1="185.5" y1="1830.6" x2="194.0" y2="1830.6" stroke="#3a3a3a" stroke-width="2.8" />
<line x1="185.5" y1="1845.3" x2="194.0" y2="1845.3" stroke="#3a3a3a" stroke-width="2.8" />
<line x1="185.5" y1="1860.1" x2="194.0" y2="1860.1" stroke="#3a3a3a" stroke-width="2.8" />
<line x1="185.5" y1="1874.8" x2="194.0" y2="1874.8" stroke="#3a3a3a" stroke-width="2.8" />
<line x1="178.0" y1="1889.5" x2="194.0" y2="1889.5" stroke="#3a3a3a" stroke-width="2.8" />
<line x1="185.5" y1="1904.2" x2="194.0" y2="1904.2" stroke="#3a3a3a" stroke-width="2.8" />
<line x1="185.5" y1="1918.9" x2="194.0" y2="1918.9" stroke="#3a3a3a" stroke-width="2.8" />
<line x1="185.5" y1="1933.7" x2="194.0" y2="1933.7" stroke="#3a3a3a" stroke-width="2.8" />
<line x1="185.5" y1="1948.4" x2="194.0" y2="1948.4" stroke="#3a3a3a" stroke-width="2.8" />
<line x1="181.0" y1="1963.1" x2="194.0" y2="1963.1" stroke="#3a3a3a" stroke-width="2.8" />
<line x1="185.5" y1="1977.8" x2="194.0" y2="1977.8" stroke="#3a3a3a" stroke-width="2.8" />
<line x1="185.5" y1="1992.5" x2="194.0" y2="1992.5" stroke="#3a3a3a" stroke-width="2.8" />
<line x1="185.5" y1="2007.2" x2="194.0" y2="2007.2" stroke="#3a3a3a" stroke-width="2.8" />
<line x1="185.5" y1="2022.0" x2="194.0" y2="2022.0" stroke="#3a3a3a" stroke-width="2.8" />
<line x1="177.0" y1="2036.7" x2="194.0" y2="2036.7" stroke="#3a3a3a" stroke-width="2.8" />
<text x="153.5" y="2047.5" font-size="30" fill="#3a3a3a" text-anchor="end" >4000</text>
<line x1="185.5" y1="2051.4" x2="194.0" y2="2051.4" stroke="#3a3a3a" stroke-width="2.8" />
<line x1="185.5" y1="2066.1" x2="194.0" y2="2066.1" stroke="#3a3a3a" stroke-width="2.8" />
<line x1="185.5" y1="2080.8" x2="194.0" y2="2080.8" stroke="#3a3a3a" stroke-width="2.8" />
<line x1="185.5" y1="2095.5" x2="194.0" y2="2095.5" stroke="#3a3a3a" stroke-width="2.8" />
<line x1="181.0" y1="2110.2" x2="194.0" y2="2110.2" stroke="#3a3a3a" stroke-width="2.8" />
<line x1="185.5" y1="2125.0" x2="194.0" y2="2125.0" stroke="#3a3a3a" stroke-width="2.8" />
<line x1="185.5" y1="2139.7" x2="194.0" y2="2139.7" stroke="#3a3a3a" stroke-width="2.8" />
<line x1="185.5" y1="2154.4" x2="194.0" y2="2154.4" stroke="#3a3a3a" stroke-width="2.8" />
<line x1="185.5" y1="2169.1" x2="194.0" y2="2169.1" stroke="#3a3a3a" stroke-width="2.8" />
<line x1="178.0" y1="2183.8" x2="194.0" y2="2183.8" stroke="#3a3a3a" stroke-width="2.8" />
<line x1="185.5" y1="2198.6" x2="194.0" y2="2198.6" stroke="#3a3a3a" stroke-width="2.8" />
<line x1="185.5" y1="2213.3" x2="194.0" y2="2213.3" stroke="#3a3a3a" stroke-width="2.8" />
<line x1="185.5" y1="2228.0" x2="194.0" y2="2228.0" stroke="#3a3a3a" stroke-width="2.8" />
<line x1="185.5" y1="2242.7" x2="194.0" y2="2242.7" stroke="#3a3a3a" stroke-width="2.8" />
<line x1="181.0" y1="2257.4" x2="194.0" y2="2257.4" stroke="#3a3a3a" stroke-width="2.8" />
<line x1="185.5" y1="2272.1" x2="194.0" y2="2272.1" stroke="#3a3a3a" stroke-width="2.8" />
<line x1="185.5" y1="2286.8" x2="194.0" y2="2286.8" stroke="#3a3a3a" stroke-width="2.8" />
<line x1="185.5" y1="2301.6" x2="194.0" y2="2301.6" stroke="#3a3a3a" stroke-width="2.8" />
<line x1="185.5" y1="2316.3" x2="194.0" y2="2316.3" stroke="#3a3a3a" stroke-width="2.8" />
<line x1="177.0" y1="2331.0" x2="194.0" y2="2331.0" stroke="#3a3a3a" stroke-width="2.8" />
<text x="153.5" y="2341.8" font-size="30" fill="#3a3a3a" text-anchor="end" >6000</text>
<line x1="185.5" y1="2345.7" x2="194.0" y2="2345.7" stroke="#3a3a3a" stroke-width="2.8" />
<line x1="304.3" y1="2352.0" x2="304.3" y2="2358.0" stroke="#3a3a3a" stroke-width="2.4" />
<line x1="427.9" y1="2352.0" x2="427.9" y2="2358.0" stroke="#3a3a3a" stroke-width="2.4" />
<line x1="551.5" y1="2352.0" x2="551.5" y2="2358.0" stroke="#3a3a3a" stroke-width="2.4" />
<line x1="675.0" y1="2352.0" x2="675.0" y2="2365.0" stroke="#3a3a3a" stroke-width="2.4" />
<text x="675.0" y="2415.8" font-size="30" fill="#3a3a3a" text-anchor="middle" >150</text>
<line x1="798.5" y1="2352.0" x2="798.5" y2="2358.0" stroke="#3a3a3a" stroke-width="2.4" />
<line x1="922.1" y1="2352.0" x2="922.1" y2="2358.0" stroke="#3a3a3a" stroke-width="2.4" />
<line x1="1045.7" y1="2352.0" x2="1045.7" y2="2358.0" stroke="#3a3a3a" stroke-width="2.4" />
<line x1="1169.2" y1="2352.0" x2="1169.2" y2="2358.0" stroke="#3a3a3a" stroke-width="2.4" />
<line x1="1292.8" y1="2352.0" x2="1292.8" y2="2365.0" stroke="#3a3a3a" stroke-width="2.4" />
<text x="1292.8" y="2415.8" font-size="30" fill="#3a3a3a" text-anchor="middle" >100</text>
<line x1="1416.3" y1="2352.0" x2="1416.3" y2="2358.0" stroke="#3a3a3a" stroke-width="2.4" />
<line x1="1539.8" y1="2352.0" x2="1539.8" y2="2358.0" stroke="#3a3a3a" stroke-width="2.4" />
<line x1="1663.4" y1="2352.0" x2="1663.4" y2="2358.0" stroke="#3a3a3a" stroke-width="2.4" />
<line x1="1787.0" y1="2352.0" x2="1787.0" y2="2358.0" stroke="#3a3a3a" stroke-width="2.4" />
<line x1="1910.5" y1="2352.0" x2="1910.5" y2="2365.0" stroke="#3a3a3a" stroke-width="2.4" />
<text x="1910.5" y="2415.8" font-size="30" fill="#3a3a3a" text-anchor="middle" >50</text>
<text x="1116.0" y="2454.5" font-size="37" fill="#3a3a3a" text-anchor="middle" >Time (Ma)</text>
<text transform="translate(74.0,1898.7) rotate(-90)" font-size="37.3" fill="#3a3a3a" text-anchor="middle" >Depth (m)</text>
<text x="296.0" y="1741.6" font-size="39" fill="#e8792b" text-anchor="middle" textLength="169" lengthAdjust="spacingAndGlyphs">Extension</text>
<text x="296.0" y="1780.0" font-size="38" fill="#e8792b" text-anchor="middle" >&amp;</text>
<text x="296.0" y="1820.0" font-size="38" fill="#e8792b" text-anchor="middle" >Rift</text>
<rect x="695.0" y="1509.5" width="1615.0" height="45.0" fill="#b3ce2b"  stroke="#d3df8f" stroke-width="1.5"/>
<text x="703.0" y="1546.8" font-size="36" fill="#33421a" text-anchor="start" textLength="1599.0" lengthAdjust="spacingAndGlyphs">148.63 Ma, 733 m / Mikulov/Altenmarkt/Falkenstein / Sedimentation rate 145.69 m/Ma / 63.99 mW/m<tspan font-size="21" dy="-13">2</tspan></text>
<rect x="773.0" y="1655.0" width="1631.5" height="46.5" fill="#b3ce2b"  stroke="#d3df8f" stroke-width="1.5"/>
<text x="780.5" y="1691.7" font-size="36" fill="#33421a" text-anchor="start" textLength="1620.0" lengthAdjust="spacingAndGlyphs">141.90 Ma, 1728 m / Mikulov/Altenmarkt/Falkenstein / Sedimentation rate 149.82 m/Ma / 59.89 mW/m<tspan font-size="21" dy="-13">2</tspan></text>
<line x1="678.6" y1="1558.5" x2="702.6" y2="1558.5" stroke="#2a2a14" stroke-width="3.5" /><line x1="690.6" y1="1546.5" x2="690.6" y2="1570.5" stroke="#2a2a14" stroke-width="3.5" />
<line x1="760.8" y1="1704.6" x2="784.8" y2="1704.6" stroke="#2a2a14" stroke-width="3.5" /><line x1="772.8" y1="1692.6" x2="772.8" y2="1716.6" stroke="#2a2a14" stroke-width="3.5" />
<text transform="translate(842.6,1885.7) rotate(-5.7)" font-size="43.4" fill="#15200f">Computed subsidence curves</text>
<rect x="2072.0" y="1739.0" width="43.0" height="30.9" fill="#ee2f2c" />
<rect x="2072.0" y="1769.4" width="43.0" height="30.9" fill="#e8502c" />
<rect x="2072.0" y="1799.8" width="43.0" height="30.9" fill="#ef7a2c" />
<rect x="2072.0" y="1830.2" width="43.0" height="30.9" fill="#f29a24" />
<rect x="2072.0" y="1860.6" width="43.0" height="30.9" fill="#f3c61e" />
<rect x="2072.0" y="1891.0" width="43.0" height="30.9" fill="#e9dd26" />
<rect x="2072.0" y="1921.4" width="43.0" height="30.9" fill="#cfd42b" />
<rect x="2072.0" y="1951.8" width="43.0" height="30.9" fill="#b3ca2b" />
<rect x="2072.0" y="1982.2" width="43.0" height="30.9" fill="#a2c62c" />
<rect x="2072.0" y="2012.6" width="43.0" height="30.9" fill="#94c130" />
<rect x="2072.0" y="2043.0" width="43.0" height="30.9" fill="#8cc03c" />
<rect x="2072.0" y="2073.4" width="43.0" height="30.9" fill="#8abf5a" />
<rect x="2072.0" y="2103.8" width="43.0" height="30.9" fill="#80c083" />
<rect x="2072.0" y="2134.2" width="43.0" height="30.9" fill="#7cc09a" />
<rect x="2072.0" y="2164.6" width="43.0" height="30.9" fill="#7cc4b4" />
<rect x="2072.0" y="2195.0" width="43.0" height="30.9" fill="#5cc0e4" />
<rect x="2072.0" y="2225.4" width="43.0" height="30.9" fill="#50a6de" />
<rect x="2072.0" y="2255.8" width="43.0" height="30.9" fill="#4f86ca" />
<rect x="2072.0" y="2286.2" width="43.0" height="30.9" fill="#4a68b2" />
<rect x="2072.0" y="2316.6" width="43.0" height="30.9" fill="#4a50a4" />
<rect x="2072.0" y="1739.0" width="43.0" height="608.0" fill="none" stroke="#3a3a3a" stroke-width="3"/>
<line x1="2115.0" y1="1739.0" x2="2140.0" y2="1739.0" stroke="#3a3a3a" stroke-width="2.2" />
<line x1="2115.0" y1="1799.8" x2="2129.0" y2="1799.8" stroke="#3a3a3a" stroke-width="2.2" />
<line x1="2115.0" y1="1860.6" x2="2129.0" y2="1860.6" stroke="#3a3a3a" stroke-width="2.2" />
<line x1="2115.0" y1="1921.4" x2="2129.0" y2="1921.4" stroke="#3a3a3a" stroke-width="2.2" />
<line x1="2115.0" y1="1982.2" x2="2129.0" y2="1982.2" stroke="#3a3a3a" stroke-width="2.2" />
<line x1="2115.0" y1="2043.0" x2="2140.0" y2="2043.0" stroke="#3a3a3a" stroke-width="2.2" />
<line x1="2115.0" y1="2103.8" x2="2129.0" y2="2103.8" stroke="#3a3a3a" stroke-width="2.2" />
<line x1="2115.0" y1="2164.6" x2="2129.0" y2="2164.6" stroke="#3a3a3a" stroke-width="2.2" />
<line x1="2115.0" y1="2225.4" x2="2129.0" y2="2225.4" stroke="#3a3a3a" stroke-width="2.2" />
<line x1="2115.0" y1="2286.2" x2="2129.0" y2="2286.2" stroke="#3a3a3a" stroke-width="2.2" />
<line x1="2115.0" y1="2347.0" x2="2140.0" y2="2347.0" stroke="#3a3a3a" stroke-width="2.2" />
<text transform="translate(2165.0,1741.0) rotate(-90)" font-size="26.5" fill="#3a3a3a" text-anchor="middle" >100</text>
<text transform="translate(2165.0,2042.6) rotate(-90)" font-size="26.5" fill="#3a3a3a" text-anchor="middle" >50</text>
<text transform="translate(2165.0,2346.8) rotate(-90)" font-size="26.5" fill="#3a3a3a" text-anchor="middle" >0</text>
<text transform="translate(2229,2021) rotate(-90)" font-size="35" fill="#3a3a3a" text-anchor="middle">Heat Flow (mW/m<tspan font-size="21" dy="-12">2</tspan><tspan dy="12">)</tspan></text>
<clipPath id="clipC"><polygon points="194.0,2836.0 379.0,2799.7 433.0,2789.0 552.0,2745.0 671.0,2704.0 700.0,2697.0 760.0,2694.0 1715.0,2693.6 1718.0,2690.5 2034.0,2690.5 2034.0,3613.5 1723.0,3613.5 1716.0,3488.0 1689.0,3488.0 1375.6,3491.3 809.7,3549.5 671.7,3419.0 601.8,3361.0 559.0,3330.0 543.6,3318.0 510.6,3310.5 501.7,3215.0 488.5,3343.5 477.6,3271.7 464.0,3174.6 438.8,3108.7 407.8,3000.0 386.6,2908.0 379.0,2874.7 194.0,2929.0"/></clipPath>
<g clip-path="url(#clipC)">
<rect x="190.0" y="2680.0" width="1850.0" height="940.0" fill="#3c4b9f" />
<polygon points="440.0,3040.0 451.3,3058.4 470.0,3066.0 483.4,3124.0 494.0,3030.0 502.8,3038.8 528.0,3054.0 562.6,3061.0 624.7,3048.0 655.7,2991.0 681.6,2965.0 728.0,2947.0 785.0,2949.8 890.0,2929.0 1371.0,2874.7 1716.0,2875.6 1716.0,3620.0 440.0,3620.0" fill="#2f6a3a" />
<polygon points="440.0,3110.0 464.0,3175.0 477.6,3271.7 488.5,3343.5 501.7,3215.0 497.0,3128.0 516.4,3151.4 601.8,3135.8 687.0,3104.8 749.0,3058.0 811.0,3050.5 999.6,3009.7 1226.0,2993.8 1716.0,2984.0 1716.0,3620.0 440.0,3620.0" fill="#089a47" />
<polygon points="488.5,3350.0 495.0,3290.0 501.7,3215.0 510.6,3245.0 543.6,3249.0 559.0,3258.0 598.0,3290.0 609.6,3271.7 640.6,3252.0 679.4,3232.9 730.0,3227.0 807.5,3244.5 1375.6,3171.0 1689.0,3164.7 1716.0,3167.0 1716.0,3620.0 488.5,3620.0" fill="#45ac49" />
<polygon points="590.0,3370.0 605.7,3362.9 671.7,3326.0 749.0,3320.0 811.0,3331.8 885.0,3306.6 1375.6,3254.0 1689.0,3250.0 1716.0,3250.0 1716.0,3620.0 590.0,3620.0" fill="#e62129" />
<polygon points="770.0,3560.0 790.0,3500.0 811.4,3490.0 1375.6,3432.0 1689.0,3429.0 1716.0,3429.0 1716.0,3620.0 770.0,3620.0" fill="#e8622c" />
<polygon points="640.0,3345.0 811.4,3490.0 811.4,3560.0 600.0,3365.0" fill="#cf222a" />
<rect x="1716.0" y="2680.0" width="324.0" height="940.0" fill="#3c4b9f" />
<polygon points="1716.0,3039.8 1723.0,3039.8 1790.4,3041.0 2040.0,3165.2 2040.0,3620.0 1716.0,3620.0" fill="#2f6a3a" />
<polygon points="1716.0,3121.5 1723.0,3121.5 1790.4,3119.0 2040.0,3248.3 2040.0,3620.0 1716.0,3620.0" fill="#089a47" />
<polygon points="1716.0,3325.0 1723.0,3325.0 1790.4,3325.0 2040.0,3447.1 2040.0,3620.0 1716.0,3620.0" fill="#45ac49" />
<polygon points="1716.0,3405.0 1723.0,3405.0 1790.4,3405.0 2040.0,3530.2 2040.0,3620.0 1716.0,3620.0" fill="#e62129" />
<polygon points="1716.0,3586.4 1723.0,3586.4 1790.4,3584.0 2040.0,3710.2 2040.0,3620.0 1716.0,3620.0" fill="#e8622c" />
<polyline points="194.0,2850.0 379.0,2810.9" fill="none" stroke="#263272" stroke-width="1.6" opacity="0.7"/>
<polyline points="194.0,2883.0 379.0,2837.3" fill="none" stroke="#263272" stroke-width="1.6" opacity="0.7"/>
<polyline points="194.0,2898.0 379.0,2849.3" fill="none" stroke="#263272" stroke-width="1.6" opacity="0.7"/>
<polyline points="194.0,2914.0 379.0,2862.1" fill="none" stroke="#263272" stroke-width="1.6" opacity="0.7"/>
<polyline points="428.0,2792.0 459.0,2877.0 479.8,3022.0 487.5,3068.8 497.0,3011.6 528.0,3054.0 559.0,3062.0 811.4,3283.3 999.6,3264.0 1375.6,3229.0 1712.0,3229.0 1725.7,3384.6 1790.4,3382.0 2033.6,3503.6" fill="none" stroke="#0f6a35" stroke-width="1.8" opacity="0.85"/>
<polyline points="552.0,2745.0 811.0,3032.6 1000.0,3011.0 1375.6,2990.0 1712.0,2988.0 1723.0,3122.0 1790.4,3120.0 2033.6,3247.0" fill="none" stroke="#183a28" stroke-width="1.8" opacity="0.8"/>
<polyline points="671.0,2704.0 811.0,2885.0 989.5,2867.0 1355.7,2833.3 1712.0,2828.2 1722.6,3002.5 1790.0,3002.5 2032.3,3136.5" fill="none" stroke="#1f2a5c" stroke-width="1.8" opacity="0.8"/>
<polyline points="795.0,2696.0 811.0,2712.0 1000.0,2704.0 1371.0,2696.0" fill="none" stroke="#1f2a5c" stroke-width="1.6" opacity="0.7"/>
<polyline points="1787.8,2690.5 1864.7,2745.2 1939.2,2798.8 2032.3,2859.3" fill="none" stroke="#1f2a5c" stroke-width="1.8" opacity="0.8"/>
<polyline points="1911.2,2690.5 1992.7,2745.2 2032.3,2772.0" fill="none" stroke="#1f2a5c" stroke-width="1.8" opacity="0.8"/>
<polyline points="448.0,2790.0 470.0,2850.0 500.0,3000.0 520.0,3040.0" fill="none" stroke="#1f2a5c" stroke-width="1.4" opacity="0.6"/>
<polyline points="194.0,2867.7 376.7,2817.4" fill="none" stroke="#1f1a1a" stroke-width="2.8" stroke-linejoin="round"/>
<polyline points="377.0,2802.0 386.3,2879.7 398.2,2951.5 414.0,3010.0 440.0,3075.0 464.0,3150.0 475.7,3232.9 489.3,3295.0 501.7,3211.5 512.5,3242.6 543.6,3246.4 559.0,3256.0 811.4,3473.5 999.6,3454.0 1375.6,3415.6 1689.0,3413.7 1712.8,3413.0 1723.0,3573.5 1790.4,3569.9 1873.0,3615.0" fill="none" stroke="#1f1a1a" stroke-width="3.0" stroke-linejoin="round"/>
<polyline points="381.0,2815.0 391.5,2882.0 403.5,2953.0 419.5,3012.0 445.5,3077.0 469.0,3152.0 480.0,3240.0 489.8,3310.0 501.7,3226.0 512.5,3256.0 543.6,3260.0 559.0,3270.0 811.4,3487.5 999.6,3468.0 1375.6,3430.0 1689.0,3428.0 1712.8,3428.0 1723.0,3588.0 1790.4,3584.0 1850.0,3615.0" fill="none" stroke="#1f1a1a" stroke-width="2.6" stroke-linejoin="round"/>
<polyline points="512.5,3268.6 543.6,3272.4 559.0,3282.0 811.4,3499.5 999.6,3480.0 1375.6,3441.6 1689.0,3439.7 1712.8,3439.0 1723.0,3599.5 1790.4,3595.9 1873.0,3641.0" fill="none" stroke="#08200c" stroke-width="1.8" opacity="0.6"/>
<polyline points="512.5,3280.6 543.6,3284.4 559.0,3294.0 811.4,3511.5 999.6,3492.0 1375.6,3453.6 1689.0,3451.7 1712.8,3451.0 1723.0,3611.5 1790.4,3607.9 1873.0,3653.0" fill="none" stroke="#08200c" stroke-width="1.8" opacity="0.6"/>
<polyline points="512.5,3292.6 543.6,3296.4 559.0,3306.0 811.4,3523.5 999.6,3504.0 1375.6,3465.6 1689.0,3463.7 1712.8,3463.0 1723.0,3623.5 1790.4,3619.9 1873.0,3665.0" fill="none" stroke="#08200c" stroke-width="1.8" opacity="0.6"/>
<polyline points="1713.3,2690.5 1713.3,2745.0 1720.3,2800.0 1720.3,2880.3 1787.8,2880.3 2032.3,3027.0" fill="none" stroke="#1a1f3a" stroke-width="3.5" stroke-linejoin="round"/>
</g>
<rect x="23.2" y="2506.0" width="61.3" height="60.0" fill="#fff" stroke="#555" stroke-width="3"/>
<text x="53.9" y="2552.0" font-size="64" fill="#222" text-anchor="middle" >c</text>
<text x="196.6" y="2550.0" font-size="56" fill="#111" text-anchor="start" >Computed EASY%Ro</text>
<rect x="194.0" y="2585.0" width="534.6" height="41.3" fill="#1dade4" stroke="#14506f" stroke-width="2.6"/>
<rect x="728.6" y="2585.0" width="993.4" height="41.3" fill="#8bc152" stroke="#3d6423" stroke-width="2.6"/>
<rect x="1722.0" y="2585.0" width="307.5" height="41.3" fill="#f9a462" stroke="#7a4315" stroke-width="2.6"/>
<rect x="194.0" y="2626.3" width="163.0" height="41.2" fill="#1dade4" stroke="#14506f" stroke-width="2.6"/>
<rect x="357.0" y="2626.3" width="180.0" height="41.2" fill="#80c5ea" stroke="#14506f" stroke-width="2.6"/>
<rect x="537.0" y="2626.3" width="191.6" height="41.2" fill="#b8ddf5" stroke="#14506f" stroke-width="2.6"/>
<rect x="728.6" y="2626.3" width="569.4" height="41.2" fill="#8cc455" stroke="#3d6423" stroke-width="2.6"/>
<rect x="1298.0" y="2626.3" width="424.0" height="41.2" fill="#b4d254" stroke="#3d6423" stroke-width="2.6"/>
<rect x="1722.0" y="2626.3" width="118.6" height="41.2" fill="#f9aa6b" stroke="#7a4315" stroke-width="2.6"/>
<rect x="1840.6" y="2626.3" width="188.9" height="41.2" fill="#fbb57e" stroke="#7a4315" stroke-width="2.6"/>
<text x="461.3" y="2620.1" font-size="30.3" fill="#0e4a75" text-anchor="middle" stroke="#0e4a75" stroke-width="0.6">Jurassic</text>
<text x="1225.3" y="2620.1" font-size="30.3" fill="#35571c" text-anchor="middle" stroke="#35571c" stroke-width="0.6">Cretaceous</text>
<text x="1875.8" y="2620.1" font-size="30.3" fill="#55300f" text-anchor="middle" stroke="#55300f" stroke-width="0.6">Paleogene</text>
<text x="275.5" y="2661.3" font-size="30.3" fill="#0e4a75" text-anchor="middle" stroke="#0e4a75" stroke-width="0.6">L Jur.</text>
<text x="447.0" y="2661.3" font-size="30.3" fill="#0e4a75" text-anchor="middle" stroke="#0e4a75" stroke-width="0.6">M Jur.</text>
<text x="632.8" y="2661.3" font-size="30.3" fill="#0e4a75" text-anchor="middle" stroke="#0e4a75" stroke-width="0.6">U Jur.</text>
<text x="1013.3" y="2661.3" font-size="30.3" fill="#35571c" text-anchor="middle" stroke="#35571c" stroke-width="0.6">Lower Cretaceous</text>
<text x="1510.0" y="2661.3" font-size="30.3" fill="#35571c" text-anchor="middle" stroke="#35571c" stroke-width="0.6">Upper Cretaceous</text>
<text x="1781.3" y="2661.3" font-size="30.3" fill="#55300f" text-anchor="middle" stroke="#55300f" stroke-width="0.6">Plc.</text>
<text x="1935.0" y="2661.3" font-size="30.3" fill="#55300f" text-anchor="middle" stroke="#55300f" stroke-width="0.6">Eocene</text>
<line x1="194.0" y1="2668.0" x2="194.0" y2="3615.4" stroke="#3a3a3a" stroke-width="3.8" />
<line x1="192.1" y1="3613.5" x2="2033.2" y2="3613.5" stroke="#3a3a3a" stroke-width="3.8" />
<line x1="2033.2" y1="2670.0" x2="2033.2" y2="3613.5" stroke="#3d4450" stroke-width="3.2" />
<line x1="177.0" y1="2686.0" x2="194.0" y2="2686.0" stroke="#3a3a3a" stroke-width="2.8" />
<text x="156.0" y="2696.4" font-size="29" fill="#3a3a3a" text-anchor="end" >0</text>
<line x1="185.5" y1="2701.1" x2="194.0" y2="2701.1" stroke="#3a3a3a" stroke-width="2.8" />
<line x1="185.5" y1="2716.2" x2="194.0" y2="2716.2" stroke="#3a3a3a" stroke-width="2.8" />
<line x1="185.5" y1="2731.2" x2="194.0" y2="2731.2" stroke="#3a3a3a" stroke-width="2.8" />
<line x1="185.5" y1="2746.3" x2="194.0" y2="2746.3" stroke="#3a3a3a" stroke-width="2.8" />
<line x1="181.0" y1="2761.4" x2="194.0" y2="2761.4" stroke="#3a3a3a" stroke-width="2.8" />
<line x1="185.5" y1="2776.5" x2="194.0" y2="2776.5" stroke="#3a3a3a" stroke-width="2.8" />
<line x1="185.5" y1="2791.6" x2="194.0" y2="2791.6" stroke="#3a3a3a" stroke-width="2.8" />
<line x1="185.5" y1="2806.7" x2="194.0" y2="2806.7" stroke="#3a3a3a" stroke-width="2.8" />
<line x1="185.5" y1="2821.8" x2="194.0" y2="2821.8" stroke="#3a3a3a" stroke-width="2.8" />
<line x1="178.0" y1="2836.8" x2="194.0" y2="2836.8" stroke="#3a3a3a" stroke-width="2.8" />
<line x1="185.5" y1="2851.9" x2="194.0" y2="2851.9" stroke="#3a3a3a" stroke-width="2.8" />
<line x1="185.5" y1="2867.0" x2="194.0" y2="2867.0" stroke="#3a3a3a" stroke-width="2.8" />
<line x1="185.5" y1="2882.1" x2="194.0" y2="2882.1" stroke="#3a3a3a" stroke-width="2.8" />
<line x1="185.5" y1="2897.2" x2="194.0" y2="2897.2" stroke="#3a3a3a" stroke-width="2.8" />
<line x1="181.0" y1="2912.2" x2="194.0" y2="2912.2" stroke="#3a3a3a" stroke-width="2.8" />
<line x1="185.5" y1="2927.3" x2="194.0" y2="2927.3" stroke="#3a3a3a" stroke-width="2.8" />
<line x1="185.5" y1="2942.4" x2="194.0" y2="2942.4" stroke="#3a3a3a" stroke-width="2.8" />
<line x1="185.5" y1="2957.5" x2="194.0" y2="2957.5" stroke="#3a3a3a" stroke-width="2.8" />
<line x1="185.5" y1="2972.6" x2="194.0" y2="2972.6" stroke="#3a3a3a" stroke-width="2.8" />
<line x1="177.0" y1="2987.7" x2="194.0" y2="2987.7" stroke="#3a3a3a" stroke-width="2.8" />
<text x="156.0" y="2998.1" font-size="29" fill="#3a3a3a" text-anchor="end" >2000</text>
<line x1="185.5" y1="3002.8" x2="194.0" y2="3002.8" stroke="#3a3a3a" stroke-width="2.8" />
<line x1="185.5" y1="3017.8" x2="194.0" y2="3017.8" stroke="#3a3a3a" stroke-width="2.8" />
<line x1="185.5" y1="3032.9" x2="194.0" y2="3032.9" stroke="#3a3a3a" stroke-width="2.8" />
<line x1="185.5" y1="3048.0" x2="194.0" y2="3048.0" stroke="#3a3a3a" stroke-width="2.8" />
<line x1="181.0" y1="3063.1" x2="194.0" y2="3063.1" stroke="#3a3a3a" stroke-width="2.8" />
<line x1="185.5" y1="3078.2" x2="194.0" y2="3078.2" stroke="#3a3a3a" stroke-width="2.8" />
<line x1="185.5" y1="3093.2" x2="194.0" y2="3093.2" stroke="#3a3a3a" stroke-width="2.8" />
<line x1="185.5" y1="3108.3" x2="194.0" y2="3108.3" stroke="#3a3a3a" stroke-width="2.8" />
<line x1="185.5" y1="3123.4" x2="194.0" y2="3123.4" stroke="#3a3a3a" stroke-width="2.8" />
<line x1="178.0" y1="3138.5" x2="194.0" y2="3138.5" stroke="#3a3a3a" stroke-width="2.8" />
<line x1="185.5" y1="3153.6" x2="194.0" y2="3153.6" stroke="#3a3a3a" stroke-width="2.8" />
<line x1="185.5" y1="3168.7" x2="194.0" y2="3168.7" stroke="#3a3a3a" stroke-width="2.8" />
<line x1="185.5" y1="3183.8" x2="194.0" y2="3183.8" stroke="#3a3a3a" stroke-width="2.8" />
<line x1="185.5" y1="3198.8" x2="194.0" y2="3198.8" stroke="#3a3a3a" stroke-width="2.8" />
<line x1="181.0" y1="3213.9" x2="194.0" y2="3213.9" stroke="#3a3a3a" stroke-width="2.8" />
<line x1="185.5" y1="3229.0" x2="194.0" y2="3229.0" stroke="#3a3a3a" stroke-width="2.8" />
<line x1="185.5" y1="3244.1" x2="194.0" y2="3244.1" stroke="#3a3a3a" stroke-width="2.8" />
<line x1="185.5" y1="3259.2" x2="194.0" y2="3259.2" stroke="#3a3a3a" stroke-width="2.8" />
<line x1="185.5" y1="3274.2" x2="194.0" y2="3274.2" stroke="#3a3a3a" stroke-width="2.8" />
<line x1="177.0" y1="3289.3" x2="194.0" y2="3289.3" stroke="#3a3a3a" stroke-width="2.8" />
<text x="156.0" y="3299.8" font-size="29" fill="#3a3a3a" text-anchor="end" >4000</text>
<line x1="185.5" y1="3304.4" x2="194.0" y2="3304.4" stroke="#3a3a3a" stroke-width="2.8" />
<line x1="185.5" y1="3319.5" x2="194.0" y2="3319.5" stroke="#3a3a3a" stroke-width="2.8" />
<line x1="185.5" y1="3334.6" x2="194.0" y2="3334.6" stroke="#3a3a3a" stroke-width="2.8" />
<line x1="185.5" y1="3349.7" x2="194.0" y2="3349.7" stroke="#3a3a3a" stroke-width="2.8" />
<line x1="181.0" y1="3364.8" x2="194.0" y2="3364.8" stroke="#3a3a3a" stroke-width="2.8" />
<line x1="185.5" y1="3379.8" x2="194.0" y2="3379.8" stroke="#3a3a3a" stroke-width="2.8" />
<line x1="185.5" y1="3394.9" x2="194.0" y2="3394.9" stroke="#3a3a3a" stroke-width="2.8" />
<line x1="185.5" y1="3410.0" x2="194.0" y2="3410.0" stroke="#3a3a3a" stroke-width="2.8" />
<line x1="185.5" y1="3425.1" x2="194.0" y2="3425.1" stroke="#3a3a3a" stroke-width="2.8" />
<line x1="178.0" y1="3440.2" x2="194.0" y2="3440.2" stroke="#3a3a3a" stroke-width="2.8" />
<line x1="185.5" y1="3455.2" x2="194.0" y2="3455.2" stroke="#3a3a3a" stroke-width="2.8" />
<line x1="185.5" y1="3470.3" x2="194.0" y2="3470.3" stroke="#3a3a3a" stroke-width="2.8" />
<line x1="185.5" y1="3485.4" x2="194.0" y2="3485.4" stroke="#3a3a3a" stroke-width="2.8" />
<line x1="185.5" y1="3500.5" x2="194.0" y2="3500.5" stroke="#3a3a3a" stroke-width="2.8" />
<line x1="181.0" y1="3515.6" x2="194.0" y2="3515.6" stroke="#3a3a3a" stroke-width="2.8" />
<line x1="185.5" y1="3530.7" x2="194.0" y2="3530.7" stroke="#3a3a3a" stroke-width="2.8" />
<line x1="185.5" y1="3545.8" x2="194.0" y2="3545.8" stroke="#3a3a3a" stroke-width="2.8" />
<line x1="185.5" y1="3560.8" x2="194.0" y2="3560.8" stroke="#3a3a3a" stroke-width="2.8" />
<line x1="185.5" y1="3575.9" x2="194.0" y2="3575.9" stroke="#3a3a3a" stroke-width="2.8" />
<line x1="177.0" y1="3591.0" x2="194.0" y2="3591.0" stroke="#3a3a3a" stroke-width="2.8" />
<text x="156.0" y="3601.4" font-size="29" fill="#3a3a3a" text-anchor="end" >6000</text>
<line x1="185.5" y1="3606.1" x2="194.0" y2="3606.1" stroke="#3a3a3a" stroke-width="2.8" />
<line x1="301.4" y1="3613.5" x2="301.4" y2="3619.5" stroke="#3a3a3a" stroke-width="2.4" />
<line x1="425.1" y1="3613.5" x2="425.1" y2="3619.5" stroke="#3a3a3a" stroke-width="2.4" />
<line x1="548.9" y1="3613.5" x2="548.9" y2="3619.5" stroke="#3a3a3a" stroke-width="2.4" />
<line x1="672.7" y1="3613.5" x2="672.7" y2="3626.5" stroke="#3a3a3a" stroke-width="2.4" />
<text x="672.7" y="3671.1" font-size="29" fill="#3a3a3a" text-anchor="middle" >150</text>
<line x1="796.5" y1="3613.5" x2="796.5" y2="3619.5" stroke="#3a3a3a" stroke-width="2.4" />
<line x1="920.3" y1="3613.5" x2="920.3" y2="3619.5" stroke="#3a3a3a" stroke-width="2.4" />
<line x1="1044.0" y1="3613.5" x2="1044.0" y2="3619.5" stroke="#3a3a3a" stroke-width="2.4" />
<line x1="1167.8" y1="3613.5" x2="1167.8" y2="3619.5" stroke="#3a3a3a" stroke-width="2.4" />
<line x1="1291.6" y1="3613.5" x2="1291.6" y2="3626.5" stroke="#3a3a3a" stroke-width="2.4" />
<text x="1291.6" y="3671.1" font-size="29" fill="#3a3a3a" text-anchor="middle" >100</text>
<line x1="1415.4" y1="3613.5" x2="1415.4" y2="3619.5" stroke="#3a3a3a" stroke-width="2.4" />
<line x1="1539.2" y1="3613.5" x2="1539.2" y2="3619.5" stroke="#3a3a3a" stroke-width="2.4" />
<line x1="1662.9" y1="3613.5" x2="1662.9" y2="3619.5" stroke="#3a3a3a" stroke-width="2.4" />
<line x1="1786.7" y1="3613.5" x2="1786.7" y2="3619.5" stroke="#3a3a3a" stroke-width="2.4" />
<line x1="1910.5" y1="3613.5" x2="1910.5" y2="3626.5" stroke="#3a3a3a" stroke-width="2.4" />
<text x="1910.5" y="3671.1" font-size="29" fill="#3a3a3a" text-anchor="middle" >50</text>
<text x="1115.5" y="3705.8" font-size="37" fill="#3a3a3a" text-anchor="middle" >Time (Ma)</text>
<text transform="translate(74.0,3144.0) rotate(-90)" font-size="37.3" fill="#3a3a3a" text-anchor="middle" >Depth (m)</text>
<text x="296.6" y="2991.0" font-size="39" fill="#e8792b" text-anchor="middle" textLength="169" lengthAdjust="spacingAndGlyphs">Extension</text>
<text x="296.6" y="3031.0" font-size="38" fill="#e8792b" text-anchor="middle" >&amp;</text>
<text x="296.6" y="3072.4" font-size="38" fill="#e8792b" text-anchor="middle" >Rift</text>
<rect x="673.8" y="2751.0" width="1512.2" height="44.5" fill="#fbf8a0"  stroke="#d8d47a" stroke-width="1.5"/>
<text x="693.0" y="2786.8" font-size="36" fill="#33381a" text-anchor="start" textLength="1480.3" lengthAdjust="spacingAndGlyphs">149.89 Ma, 728 m / Mikulov/Altenmarkt/Falkenstein / Age of deposition 154.76 Ma / 0.33 %Ro</text>
<rect x="789.0" y="2947.0" width="1533.4" height="45.0" fill="#fbf8a0"  stroke="#d8d47a" stroke-width="1.5"/>
<text x="803.0" y="2983.0" font-size="36" fill="#33381a" text-anchor="start" textLength="1502.3" lengthAdjust="spacingAndGlyphs">140.62 Ma, 2024 m / Mikulov/Altenmarkt/Falkenstein / Age of deposition 158.58 Ma / 0.61 %Ro</text>
<line x1="660.0" y1="2797.0" x2="682.0" y2="2797.0" stroke="#1a1f3a" stroke-width="3" /><line x1="671.0" y1="2786.0" x2="671.0" y2="2808.0" stroke="#1a1f3a" stroke-width="3" />
<line x1="774.0" y1="2997.4" x2="796.0" y2="2997.4" stroke="#1a2a1a" stroke-width="3" /><line x1="785.0" y1="2986.4" x2="785.0" y2="3008.4" stroke="#1a2a1a" stroke-width="3" />
<rect x="2071.4" y="3010.0" width="42.4" height="122.5" fill="#fce91a" />
<rect x="2071.4" y="3132.0" width="42.4" height="241.2" fill="#e8622c" />
<rect x="2071.4" y="3372.7" width="42.4" height="84.8" fill="#e62129" />
<rect x="2071.4" y="3457.0" width="42.4" height="37.8" fill="#45ac49" />
<rect x="2071.4" y="3494.3" width="42.4" height="37.2" fill="#089a47" />
<rect x="2071.4" y="3531.0" width="42.4" height="19.5" fill="#2f6a3a" />
<rect x="2071.4" y="3550.0" width="42.4" height="65.5" fill="#3c4b9f" />
<rect x="2071.4" y="3010.0" width="42.4" height="605.0" fill="none" stroke="#3a3a3a" stroke-width="3"/>
<line x1="2113.8" y1="3615.0" x2="2136.8" y2="3615.0" stroke="#3a3a3a" stroke-width="2" />
<line x1="2113.8" y1="3602.9" x2="2128.8" y2="3602.9" stroke="#3a3a3a" stroke-width="2" />
<line x1="2113.8" y1="3590.8" x2="2128.8" y2="3590.8" stroke="#3a3a3a" stroke-width="2" />
<line x1="2113.8" y1="3578.8" x2="2128.8" y2="3578.8" stroke="#3a3a3a" stroke-width="2" />
<line x1="2113.8" y1="3566.7" x2="2128.8" y2="3566.7" stroke="#3a3a3a" stroke-width="2" />
<line x1="2113.8" y1="3554.6" x2="2136.8" y2="3554.6" stroke="#3a3a3a" stroke-width="2" />
<line x1="2113.8" y1="3542.6" x2="2128.8" y2="3542.6" stroke="#3a3a3a" stroke-width="2" />
<line x1="2113.8" y1="3530.5" x2="2128.8" y2="3530.5" stroke="#3a3a3a" stroke-width="2" />
<line x1="2113.8" y1="3518.4" x2="2128.8" y2="3518.4" stroke="#3a3a3a" stroke-width="2" />
<line x1="2113.8" y1="3506.3" x2="2128.8" y2="3506.3" stroke="#3a3a3a" stroke-width="2" />
<line x1="2113.8" y1="3494.2" x2="2136.8" y2="3494.2" stroke="#3a3a3a" stroke-width="2" />
<line x1="2113.8" y1="3482.2" x2="2128.8" y2="3482.2" stroke="#3a3a3a" stroke-width="2" />
<line x1="2113.8" y1="3470.1" x2="2128.8" y2="3470.1" stroke="#3a3a3a" stroke-width="2" />
<line x1="2113.8" y1="3458.0" x2="2128.8" y2="3458.0" stroke="#3a3a3a" stroke-width="2" />
<line x1="2113.8" y1="3445.9" x2="2128.8" y2="3445.9" stroke="#3a3a3a" stroke-width="2" />
<line x1="2113.8" y1="3433.9" x2="2136.8" y2="3433.9" stroke="#3a3a3a" stroke-width="2" />
<line x1="2113.8" y1="3421.8" x2="2128.8" y2="3421.8" stroke="#3a3a3a" stroke-width="2" />
<line x1="2113.8" y1="3409.7" x2="2128.8" y2="3409.7" stroke="#3a3a3a" stroke-width="2" />
<line x1="2113.8" y1="3397.7" x2="2128.8" y2="3397.7" stroke="#3a3a3a" stroke-width="2" />
<line x1="2113.8" y1="3385.6" x2="2128.8" y2="3385.6" stroke="#3a3a3a" stroke-width="2" />
<line x1="2113.8" y1="3373.5" x2="2136.8" y2="3373.5" stroke="#3a3a3a" stroke-width="2" />
<line x1="2113.8" y1="3361.4" x2="2128.8" y2="3361.4" stroke="#3a3a3a" stroke-width="2" />
<line x1="2113.8" y1="3349.3" x2="2128.8" y2="3349.3" stroke="#3a3a3a" stroke-width="2" />
<line x1="2113.8" y1="3337.3" x2="2128.8" y2="3337.3" stroke="#3a3a3a" stroke-width="2" />
<line x1="2113.8" y1="3325.2" x2="2128.8" y2="3325.2" stroke="#3a3a3a" stroke-width="2" />
<line x1="2113.8" y1="3313.1" x2="2136.8" y2="3313.1" stroke="#3a3a3a" stroke-width="2" />
<line x1="2113.8" y1="3301.1" x2="2128.8" y2="3301.1" stroke="#3a3a3a" stroke-width="2" />
<line x1="2113.8" y1="3289.0" x2="2128.8" y2="3289.0" stroke="#3a3a3a" stroke-width="2" />
<line x1="2113.8" y1="3276.9" x2="2128.8" y2="3276.9" stroke="#3a3a3a" stroke-width="2" />
<line x1="2113.8" y1="3264.8" x2="2128.8" y2="3264.8" stroke="#3a3a3a" stroke-width="2" />
<line x1="2113.8" y1="3252.8" x2="2136.8" y2="3252.8" stroke="#3a3a3a" stroke-width="2" />
<line x1="2113.8" y1="3240.7" x2="2128.8" y2="3240.7" stroke="#3a3a3a" stroke-width="2" />
<line x1="2113.8" y1="3228.6" x2="2128.8" y2="3228.6" stroke="#3a3a3a" stroke-width="2" />
<line x1="2113.8" y1="3216.5" x2="2128.8" y2="3216.5" stroke="#3a3a3a" stroke-width="2" />
<line x1="2113.8" y1="3204.4" x2="2128.8" y2="3204.4" stroke="#3a3a3a" stroke-width="2" />
<line x1="2113.8" y1="3192.4" x2="2136.8" y2="3192.4" stroke="#3a3a3a" stroke-width="2" />
<line x1="2113.8" y1="3180.3" x2="2128.8" y2="3180.3" stroke="#3a3a3a" stroke-width="2" />
<line x1="2113.8" y1="3168.2" x2="2128.8" y2="3168.2" stroke="#3a3a3a" stroke-width="2" />
<line x1="2113.8" y1="3156.2" x2="2128.8" y2="3156.2" stroke="#3a3a3a" stroke-width="2" />
<line x1="2113.8" y1="3144.1" x2="2128.8" y2="3144.1" stroke="#3a3a3a" stroke-width="2" />
<line x1="2113.8" y1="3132.0" x2="2136.8" y2="3132.0" stroke="#3a3a3a" stroke-width="2" />
<line x1="2113.8" y1="3119.9" x2="2128.8" y2="3119.9" stroke="#3a3a3a" stroke-width="2" />
<line x1="2113.8" y1="3107.8" x2="2128.8" y2="3107.8" stroke="#3a3a3a" stroke-width="2" />
<line x1="2113.8" y1="3095.8" x2="2128.8" y2="3095.8" stroke="#3a3a3a" stroke-width="2" />
<line x1="2113.8" y1="3083.7" x2="2128.8" y2="3083.7" stroke="#3a3a3a" stroke-width="2" />
<line x1="2113.8" y1="3071.6" x2="2136.8" y2="3071.6" stroke="#3a3a3a" stroke-width="2" />
<line x1="2113.8" y1="3059.6" x2="2128.8" y2="3059.6" stroke="#3a3a3a" stroke-width="2" />
<line x1="2113.8" y1="3047.5" x2="2128.8" y2="3047.5" stroke="#3a3a3a" stroke-width="2" />
<line x1="2113.8" y1="3035.4" x2="2128.8" y2="3035.4" stroke="#3a3a3a" stroke-width="2" />
<line x1="2113.8" y1="3023.3" x2="2128.8" y2="3023.3" stroke="#3a3a3a" stroke-width="2" />
<line x1="2113.8" y1="3011.2" x2="2136.8" y2="3011.2" stroke="#3a3a3a" stroke-width="2" />
<text transform="translate(2167.0,3134.0) rotate(-90)" font-size="26.5" fill="#3a3a3a" text-anchor="middle" >4</text>
<text transform="translate(2167.0,3373.0) rotate(-90)" font-size="26.5" fill="#3a3a3a" text-anchor="middle" >2</text>
<text transform="translate(2167.0,3615.0) rotate(-90)" font-size="26.5" fill="#3a3a3a" text-anchor="middle" >0</text>
<text transform="translate(2236.5,3311.5) rotate(-90)" font-size="35.3" fill="#3a3a3a" text-anchor="middle" >Sweeney&amp;Burnham(1990)</text>
<text transform="translate(2275.5,3325.0) rotate(-90)" font-size="35.8" fill="#3a3a3a" text-anchor="middle" >_EASY%Ro (%Ro)</text>
</svg>
</body></html>
